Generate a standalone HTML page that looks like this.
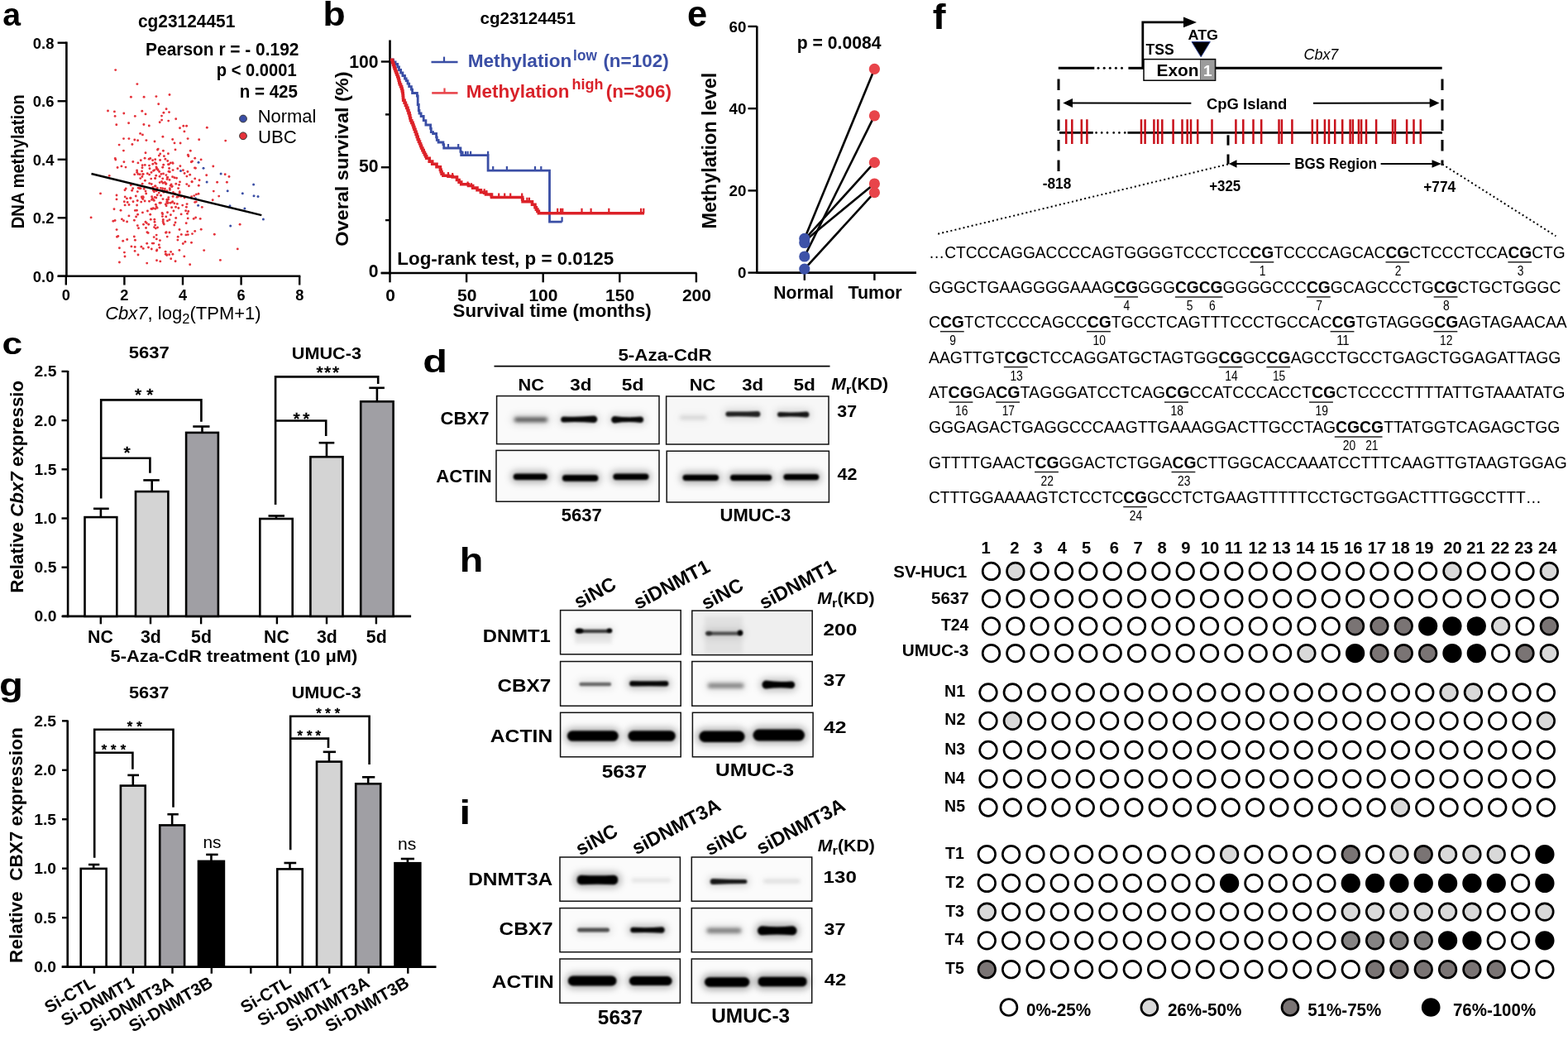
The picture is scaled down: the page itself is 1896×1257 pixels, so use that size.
<!DOCTYPE html>
<html><head><meta charset="utf-8"><title>Figure</title>
<style>
html,body{margin:0;padding:0;background:#fff;width:1896px;height:1257px;overflow:hidden}
svg{display:block}
text{font-family:"Liberation Sans", Arial, Helvetica, sans-serif}
</style></head><body>
<svg width="1896" height="1257" viewBox="0 0 1896 1257">
<rect width="1896" height="1257" fill="#fff"/>
<text x="3.25" y="30.60" font-size="38" font-weight="bold" textLength="21.80" lengthAdjust="spacingAndGlyphs">a</text>
<line x1="80.40" y1="50.50" x2="80.40" y2="335.00" stroke="#000" stroke-width="2.6"/>
<line x1="69.70" y1="333.80" x2="363.30" y2="333.80" stroke="#000" stroke-width="2.6"/>
<line x1="69.60" y1="333.80" x2="80.40" y2="333.80" stroke="#000" stroke-width="2.4"/>
<text x="65.40" y="340.60" font-size="18.4" font-weight="bold" text-anchor="end">0.0</text>
<line x1="69.60" y1="263.28" x2="80.40" y2="263.28" stroke="#000" stroke-width="2.4"/>
<text x="65.40" y="270.08" font-size="18.4" font-weight="bold" text-anchor="end">0.2</text>
<line x1="69.60" y1="192.76" x2="80.40" y2="192.76" stroke="#000" stroke-width="2.4"/>
<text x="65.40" y="199.56" font-size="18.4" font-weight="bold" text-anchor="end">0.4</text>
<line x1="69.60" y1="122.24" x2="80.40" y2="122.24" stroke="#000" stroke-width="2.4"/>
<text x="65.40" y="129.04" font-size="18.4" font-weight="bold" text-anchor="end">0.6</text>
<line x1="69.60" y1="51.72" x2="80.40" y2="51.72" stroke="#000" stroke-width="2.4"/>
<text x="65.40" y="58.52" font-size="18.4" font-weight="bold" text-anchor="end">0.8</text>
<line x1="79.80" y1="333.80" x2="79.80" y2="344.50" stroke="#000" stroke-width="2.4"/>
<text x="79.80" y="362.80" font-size="18.2" font-weight="bold" text-anchor="middle">0</text>
<line x1="150.40" y1="333.80" x2="150.40" y2="344.50" stroke="#000" stroke-width="2.4"/>
<text x="150.40" y="362.80" font-size="18.2" font-weight="bold" text-anchor="middle">2</text>
<line x1="221.00" y1="333.80" x2="221.00" y2="344.50" stroke="#000" stroke-width="2.4"/>
<text x="221.00" y="362.80" font-size="18.2" font-weight="bold" text-anchor="middle">4</text>
<line x1="291.60" y1="333.80" x2="291.60" y2="344.50" stroke="#000" stroke-width="2.4"/>
<text x="291.60" y="362.80" font-size="18.2" font-weight="bold" text-anchor="middle">6</text>
<line x1="362.20" y1="333.80" x2="362.20" y2="344.50" stroke="#000" stroke-width="2.4"/>
<text x="362.20" y="362.80" font-size="18.2" font-weight="bold" text-anchor="middle">8</text>
<g fill="#e5323a"><circle cx="139.7" cy="84.6" r="1.45"/><circle cx="165.9" cy="101.6" r="1.45"/><circle cx="158.4" cy="117.3" r="1.45"/><circle cx="174.1" cy="117.3" r="1.45"/><circle cx="188.9" cy="116.6" r="1.45"/><circle cx="205.0" cy="114.5" r="1.45"/><circle cx="191.7" cy="125.8" r="1.45"/><circle cx="130.5" cy="134.0" r="1.45"/><circle cx="138.4" cy="134.9" r="1.45"/><circle cx="149.8" cy="137.0" r="1.45"/><circle cx="139.1" cy="140.4" r="1.45"/><circle cx="163.3" cy="140.4" r="1.45"/><circle cx="197.9" cy="136.2" r="1.45"/><circle cx="140.8" cy="150.8" r="1.45"/><circle cx="155.6" cy="148.8" r="1.45"/><circle cx="173.9" cy="150.5" r="1.45"/><circle cx="180.3" cy="152.0" r="1.45"/><circle cx="193.2" cy="147.7" r="1.45"/><circle cx="217.5" cy="154.8" r="1.45"/><circle cx="221.8" cy="152.3" r="1.45"/><circle cx="225.6" cy="152.3" r="1.45"/><circle cx="250.3" cy="154.2" r="1.45"/><circle cx="240.7" cy="168.8" r="1.45"/><circle cx="272.7" cy="170.1" r="1.45"/><circle cx="230.3" cy="182.3" r="1.45"/><circle cx="257.8" cy="201.0" r="1.45"/><circle cx="110.1" cy="262.9" r="1.45"/><circle cx="121.5" cy="233.9" r="1.45"/><circle cx="136.9" cy="267.2" r="1.45"/><circle cx="290.1" cy="271.2" r="1.45"/><circle cx="287.3" cy="300.9" r="1.45"/><circle cx="266.4" cy="314.4" r="1.45"/><circle cx="246.7" cy="302.6" r="1.45"/><circle cx="259.3" cy="283.3" r="1.45"/><circle cx="229.7" cy="319.8" r="1.45"/><circle cx="144.4" cy="317.0" r="1.45"/><circle cx="177.7" cy="318.1" r="1.45"/><circle cx="189.5" cy="314.8" r="1.45"/><circle cx="193.8" cy="315.9" r="1.45"/><circle cx="206.7" cy="312.7" r="1.45"/><circle cx="222.8" cy="309.9" r="1.45"/><circle cx="144.4" cy="299.8" r="1.45"/><circle cx="167.0" cy="308.0" r="1.45"/><circle cx="200.3" cy="307.3" r="1.45"/><circle cx="204.6" cy="307.8" r="1.45"/><circle cx="208.9" cy="307.3" r="1.45"/><circle cx="148.7" cy="291.2" r="1.45"/><circle cx="153.7" cy="289.5" r="1.45"/><circle cx="243.2" cy="277.3" r="1.45"/><circle cx="132.2" cy="212.4" r="1.45"/><circle cx="274.4" cy="220.3" r="1.45"/><circle cx="277.0" cy="213.5" r="1.45"/><circle cx="272.2" cy="210.7" r="1.45"/><circle cx="262.6" cy="220.3" r="1.45"/><circle cx="258.3" cy="231.1" r="1.45"/><circle cx="264.7" cy="237.1" r="1.45"/><circle cx="257.2" cy="241.8" r="1.45"/><circle cx="237.4" cy="234.9" r="1.45"/><circle cx="240.0" cy="234.3" r="1.45"/><circle cx="235.7" cy="244.4" r="1.45"/><circle cx="244.3" cy="250.4" r="1.45"/><circle cx="242.2" cy="264.4" r="1.45"/><circle cx="234.2" cy="264.4" r="1.45"/><circle cx="232.5" cy="282.6" r="1.45"/><circle cx="235.7" cy="279.4" r="1.45"/><circle cx="249.7" cy="211.8" r="1.45"/><circle cx="241.1" cy="217.8" r="1.45"/><circle cx="236.4" cy="203.2" r="1.45"/><circle cx="235.7" cy="191.3" r="1.45"/><circle cx="182.7" cy="216.1" r="1.45"/><circle cx="183.5" cy="252.5" r="1.45"/><circle cx="165.6" cy="248.0" r="1.45"/><circle cx="217.5" cy="219.9" r="1.45"/><circle cx="215.6" cy="227.6" r="1.45"/><circle cx="199.3" cy="230.4" r="1.45"/><circle cx="146.9" cy="200.9" r="1.45"/><circle cx="202.1" cy="216.6" r="1.45"/><circle cx="166.6" cy="259.2" r="1.45"/><circle cx="197.0" cy="240.6" r="1.45"/><circle cx="202.5" cy="266.9" r="1.45"/><circle cx="197.1" cy="221.2" r="1.45"/><circle cx="172.4" cy="162.9" r="1.45"/><circle cx="203.4" cy="185.8" r="1.45"/><circle cx="173.5" cy="271.2" r="1.45"/><circle cx="180.5" cy="243.3" r="1.45"/><circle cx="205.3" cy="227.6" r="1.45"/><circle cx="177.9" cy="280.8" r="1.45"/><circle cx="176.0" cy="184.8" r="1.45"/><circle cx="168.7" cy="227.8" r="1.45"/><circle cx="200.1" cy="304.3" r="1.45"/><circle cx="190.5" cy="181.0" r="1.45"/><circle cx="138.0" cy="252.8" r="1.45"/><circle cx="186.5" cy="274.6" r="1.45"/><circle cx="201.9" cy="241.3" r="1.45"/><circle cx="152.0" cy="202.1" r="1.45"/><circle cx="206.2" cy="196.9" r="1.45"/><circle cx="225.8" cy="222.6" r="1.45"/><circle cx="192.3" cy="295.9" r="1.45"/><circle cx="204.9" cy="265.6" r="1.45"/><circle cx="177.7" cy="294.3" r="1.45"/><circle cx="164.6" cy="262.0" r="1.45"/><circle cx="152.2" cy="228.0" r="1.45"/><circle cx="225.9" cy="213.1" r="1.45"/><circle cx="198.3" cy="271.0" r="1.45"/><circle cx="160.8" cy="195.5" r="1.45"/><circle cx="217.2" cy="231.7" r="1.45"/><circle cx="195.5" cy="219.5" r="1.45"/><circle cx="229.7" cy="211.3" r="1.45"/><circle cx="202.4" cy="214.5" r="1.45"/><circle cx="149.4" cy="182.1" r="1.45"/><circle cx="213.5" cy="215.3" r="1.45"/><circle cx="139.1" cy="266.5" r="1.45"/><circle cx="184.6" cy="193.7" r="1.45"/><circle cx="155.9" cy="167.6" r="1.45"/><circle cx="203.3" cy="245.2" r="1.45"/><circle cx="197.5" cy="210.0" r="1.45"/><circle cx="192.3" cy="188.1" r="1.45"/><circle cx="172.4" cy="256.9" r="1.45"/><circle cx="215.7" cy="237.4" r="1.45"/><circle cx="166.9" cy="196.9" r="1.45"/><circle cx="226.5" cy="258.2" r="1.45"/><circle cx="154.2" cy="244.5" r="1.45"/><circle cx="185.4" cy="251.7" r="1.45"/><circle cx="224.9" cy="283.9" r="1.45"/><circle cx="221.3" cy="294.5" r="1.45"/><circle cx="169.2" cy="210.8" r="1.45"/><circle cx="217.9" cy="200.7" r="1.45"/><circle cx="198.0" cy="232.3" r="1.45"/><circle cx="193.1" cy="213.2" r="1.45"/><circle cx="184.8" cy="226.4" r="1.45"/><circle cx="203.8" cy="238.6" r="1.45"/><circle cx="208.6" cy="213.7" r="1.45"/><circle cx="240.3" cy="224.3" r="1.45"/><circle cx="178.4" cy="255.0" r="1.45"/><circle cx="188.9" cy="197.9" r="1.45"/><circle cx="180.7" cy="221.6" r="1.45"/><circle cx="160.7" cy="227.8" r="1.45"/><circle cx="199.4" cy="228.1" r="1.45"/><circle cx="178.3" cy="209.7" r="1.45"/><circle cx="196.4" cy="261.6" r="1.45"/><circle cx="175.1" cy="243.0" r="1.45"/><circle cx="183.5" cy="241.4" r="1.45"/><circle cx="214.9" cy="290.1" r="1.45"/><circle cx="187.5" cy="196.6" r="1.45"/><circle cx="211.0" cy="172.9" r="1.45"/><circle cx="146.0" cy="254.2" r="1.45"/><circle cx="180.6" cy="211.1" r="1.45"/><circle cx="216.9" cy="302.4" r="1.45"/><circle cx="206.6" cy="304.4" r="1.45"/><circle cx="193.7" cy="185.9" r="1.45"/><circle cx="185.4" cy="230.2" r="1.45"/><circle cx="209.5" cy="232.4" r="1.45"/><circle cx="187.0" cy="171.0" r="1.45"/><circle cx="215.9" cy="251.5" r="1.45"/><circle cx="212.5" cy="250.3" r="1.45"/><circle cx="192.6" cy="207.5" r="1.45"/><circle cx="194.9" cy="210.4" r="1.45"/><circle cx="150.4" cy="305.1" r="1.45"/><circle cx="204.9" cy="281.0" r="1.45"/><circle cx="163.1" cy="303.4" r="1.45"/><circle cx="221.4" cy="205.7" r="1.45"/><circle cx="226.7" cy="279.9" r="1.45"/><circle cx="189.3" cy="288.9" r="1.45"/><circle cx="208.7" cy="168.5" r="1.45"/><circle cx="166.6" cy="169.8" r="1.45"/><circle cx="214.3" cy="246.4" r="1.45"/><circle cx="186.8" cy="265.2" r="1.45"/><circle cx="199.4" cy="220.5" r="1.45"/><circle cx="227.3" cy="283.6" r="1.45"/><circle cx="218.1" cy="173.0" r="1.45"/><circle cx="226.1" cy="246.6" r="1.45"/><circle cx="170.3" cy="193.7" r="1.45"/><circle cx="192.2" cy="233.1" r="1.45"/><circle cx="225.4" cy="250.2" r="1.45"/><circle cx="142.1" cy="202.5" r="1.45"/><circle cx="197.3" cy="265.5" r="1.45"/><circle cx="189.0" cy="201.9" r="1.45"/><circle cx="191.2" cy="180.1" r="1.45"/><circle cx="187.7" cy="192.7" r="1.45"/><circle cx="227.1" cy="167.6" r="1.45"/><circle cx="172.2" cy="199.8" r="1.45"/><circle cx="141.5" cy="286.3" r="1.45"/><circle cx="139.3" cy="191.5" r="1.45"/><circle cx="157.9" cy="239.2" r="1.45"/><circle cx="184.3" cy="239.9" r="1.45"/><circle cx="174.2" cy="228.3" r="1.45"/><circle cx="234.8" cy="236.6" r="1.45"/><circle cx="202.7" cy="194.5" r="1.45"/><circle cx="184.2" cy="294.1" r="1.45"/><circle cx="175.1" cy="191.3" r="1.45"/><circle cx="147.4" cy="264.9" r="1.45"/><circle cx="214.8" cy="203.7" r="1.45"/><circle cx="189.4" cy="203.1" r="1.45"/><circle cx="193.4" cy="290.6" r="1.45"/><circle cx="149.5" cy="266.8" r="1.45"/><circle cx="212.7" cy="263.5" r="1.45"/><circle cx="166.3" cy="272.6" r="1.45"/><circle cx="150.3" cy="243.8" r="1.45"/><circle cx="159.2" cy="222.5" r="1.45"/><circle cx="207.6" cy="250.7" r="1.45"/><circle cx="196.6" cy="258.8" r="1.45"/><circle cx="209.1" cy="205.6" r="1.45"/><circle cx="206.2" cy="224.2" r="1.45"/><circle cx="223.1" cy="209.5" r="1.45"/><circle cx="212.0" cy="180.9" r="1.45"/><circle cx="181.7" cy="259.3" r="1.45"/><circle cx="201.1" cy="131.8" r="1.45"/><circle cx="165.7" cy="208.2" r="1.45"/><circle cx="237.2" cy="243.9" r="1.45"/><circle cx="203.5" cy="198.8" r="1.45"/><circle cx="166.2" cy="242.5" r="1.45"/><circle cx="196.7" cy="202.2" r="1.45"/><circle cx="188.4" cy="247.2" r="1.45"/><circle cx="163.4" cy="254.4" r="1.45"/><circle cx="211.9" cy="234.1" r="1.45"/><circle cx="167.5" cy="275.7" r="1.45"/><circle cx="205.0" cy="217.4" r="1.45"/><circle cx="232.0" cy="219.7" r="1.45"/><circle cx="187.5" cy="215.6" r="1.45"/><circle cx="139.8" cy="193.1" r="1.45"/><circle cx="197.5" cy="269.5" r="1.45"/><circle cx="222.9" cy="158.9" r="1.45"/><circle cx="153.6" cy="268.0" r="1.45"/><circle cx="196.6" cy="230.5" r="1.45"/><circle cx="179.1" cy="281.5" r="1.45"/><circle cx="243.1" cy="192.9" r="1.45"/><circle cx="158.9" cy="297.9" r="1.45"/><circle cx="232.5" cy="195.0" r="1.45"/><circle cx="235.5" cy="202.9" r="1.45"/><circle cx="167.1" cy="227.1" r="1.45"/><circle cx="187.7" cy="215.6" r="1.45"/><circle cx="170.7" cy="244.1" r="1.45"/><circle cx="200.9" cy="222.0" r="1.45"/><circle cx="205.4" cy="229.4" r="1.45"/><circle cx="181.0" cy="203.8" r="1.45"/><circle cx="190.5" cy="275.0" r="1.45"/><circle cx="173.3" cy="238.6" r="1.45"/><circle cx="186.4" cy="231.7" r="1.45"/><circle cx="189.2" cy="230.8" r="1.45"/><circle cx="185.8" cy="294.1" r="1.45"/><circle cx="199.9" cy="192.2" r="1.45"/><circle cx="200.3" cy="246.9" r="1.45"/><circle cx="200.6" cy="281.2" r="1.45"/><circle cx="141.0" cy="236.0" r="1.45"/><circle cx="165.6" cy="206.0" r="1.45"/><circle cx="162.8" cy="169.0" r="1.45"/><circle cx="179.5" cy="299.0" r="1.45"/><circle cx="169.8" cy="215.6" r="1.45"/><circle cx="201.9" cy="230.8" r="1.45"/><circle cx="226.9" cy="207.5" r="1.45"/><circle cx="188.7" cy="212.3" r="1.45"/><circle cx="231.3" cy="195.8" r="1.45"/><circle cx="215.2" cy="286.3" r="1.45"/><circle cx="185.5" cy="206.4" r="1.45"/><circle cx="181.7" cy="191.5" r="1.45"/><circle cx="204.4" cy="198.6" r="1.45"/><circle cx="220.7" cy="248.1" r="1.45"/><circle cx="180.5" cy="200.1" r="1.45"/><circle cx="214.1" cy="238.3" r="1.45"/><circle cx="159.6" cy="230.3" r="1.45"/><circle cx="198.4" cy="188.8" r="1.45"/><circle cx="209.1" cy="237.5" r="1.45"/><circle cx="210.9" cy="214.8" r="1.45"/><circle cx="194.5" cy="236.2" r="1.45"/><circle cx="183.0" cy="208.4" r="1.45"/><circle cx="162.4" cy="266.3" r="1.45"/><circle cx="189.4" cy="303.1" r="1.45"/><circle cx="171.9" cy="213.5" r="1.45"/><circle cx="203.6" cy="241.0" r="1.45"/><circle cx="183.3" cy="301.0" r="1.45"/><circle cx="235.7" cy="215.9" r="1.45"/><circle cx="217.0" cy="277.5" r="1.45"/><circle cx="209.1" cy="197.4" r="1.45"/><circle cx="141.0" cy="240.9" r="1.45"/><circle cx="142.8" cy="285.5" r="1.45"/><circle cx="173.2" cy="300.4" r="1.45"/><circle cx="190.0" cy="227.6" r="1.45"/><circle cx="205.3" cy="207.7" r="1.45"/><circle cx="227.4" cy="187.3" r="1.45"/><circle cx="155.9" cy="260.9" r="1.45"/><circle cx="162.3" cy="286.0" r="1.45"/><circle cx="187.2" cy="238.4" r="1.45"/><circle cx="201.7" cy="308.5" r="1.45"/><circle cx="157.8" cy="239.6" r="1.45"/><circle cx="184.2" cy="252.3" r="1.45"/><circle cx="187.6" cy="272.1" r="1.45"/><circle cx="207.1" cy="223.0" r="1.45"/><circle cx="187.0" cy="268.2" r="1.45"/><circle cx="164.3" cy="237.0" r="1.45"/><circle cx="151.0" cy="229.8" r="1.45"/><circle cx="193.0" cy="299.3" r="1.45"/><circle cx="182.9" cy="252.4" r="1.45"/><circle cx="200.9" cy="211.6" r="1.45"/><circle cx="188.3" cy="276.1" r="1.45"/><circle cx="185.6" cy="241.5" r="1.45"/><circle cx="207.9" cy="225.6" r="1.45"/><circle cx="170.9" cy="298.3" r="1.45"/><circle cx="179.7" cy="271.2" r="1.45"/><circle cx="161.0" cy="243.7" r="1.45"/><circle cx="176.7" cy="234.0" r="1.45"/><circle cx="202.5" cy="256.8" r="1.45"/><circle cx="217.2" cy="233.2" r="1.45"/><circle cx="170.1" cy="227.7" r="1.45"/><circle cx="204.5" cy="135.6" r="1.45"/><circle cx="197.4" cy="182.2" r="1.45"/><circle cx="208.7" cy="196.8" r="1.45"/><circle cx="202.2" cy="245.5" r="1.45"/><circle cx="202.2" cy="286.1" r="1.45"/><circle cx="219.3" cy="283.4" r="1.45"/><circle cx="195.6" cy="145.1" r="1.45"/><circle cx="183.6" cy="237.7" r="1.45"/><circle cx="218.8" cy="237.4" r="1.45"/><circle cx="168.7" cy="227.2" r="1.45"/><circle cx="204.0" cy="207.3" r="1.45"/><circle cx="169.6" cy="161.4" r="1.45"/><circle cx="231.6" cy="237.8" r="1.45"/><circle cx="196.1" cy="257.5" r="1.45"/><circle cx="225.2" cy="269.7" r="1.45"/><circle cx="206.4" cy="259.7" r="1.45"/><circle cx="171.6" cy="206.9" r="1.45"/><circle cx="223.1" cy="239.0" r="1.45"/><circle cx="172.0" cy="202.8" r="1.45"/><circle cx="188.0" cy="224.9" r="1.45"/><circle cx="227.9" cy="188.7" r="1.45"/><circle cx="176.0" cy="137.9" r="1.45"/><circle cx="189.3" cy="204.0" r="1.45"/><circle cx="172.8" cy="240.6" r="1.45"/><circle cx="223.9" cy="292.2" r="1.45"/><circle cx="151.0" cy="310.0" r="1.45"/><circle cx="219.1" cy="258.9" r="1.45"/><circle cx="187.7" cy="252.4" r="1.45"/><circle cx="186.2" cy="286.6" r="1.45"/><circle cx="189.8" cy="302.0" r="1.45"/><circle cx="187.4" cy="225.0" r="1.45"/><circle cx="201.1" cy="248.8" r="1.45"/><circle cx="166.3" cy="231.6" r="1.45"/><circle cx="176.9" cy="169.6" r="1.45"/><circle cx="208.7" cy="243.7" r="1.45"/><circle cx="177.3" cy="269.6" r="1.45"/><circle cx="165.4" cy="254.2" r="1.45"/><circle cx="196.7" cy="215.9" r="1.45"/><circle cx="203.7" cy="146.1" r="1.45"/><circle cx="171.3" cy="238.0" r="1.45"/><circle cx="176.0" cy="231.1" r="1.45"/><circle cx="193.2" cy="220.6" r="1.45"/><circle cx="183.2" cy="222.5" r="1.45"/><circle cx="190.6" cy="204.6" r="1.45"/><circle cx="141.1" cy="277.6" r="1.45"/><circle cx="189.2" cy="284.1" r="1.45"/><circle cx="162.7" cy="210.9" r="1.45"/><circle cx="172.7" cy="210.6" r="1.45"/><circle cx="208.2" cy="225.1" r="1.45"/><circle cx="202.1" cy="243.2" r="1.45"/><circle cx="153.4" cy="239.9" r="1.45"/><circle cx="200.8" cy="261.9" r="1.45"/><circle cx="186.7" cy="205.6" r="1.45"/><circle cx="166.9" cy="210.4" r="1.45"/><circle cx="236.6" cy="263.0" r="1.45"/><circle cx="193.0" cy="245.2" r="1.45"/><circle cx="228.4" cy="224.7" r="1.45"/><circle cx="212.0" cy="269.0" r="1.45"/><circle cx="188.8" cy="239.0" r="1.45"/><circle cx="144.1" cy="175.1" r="1.45"/><circle cx="212.1" cy="315.7" r="1.45"/><circle cx="208.1" cy="244.4" r="1.45"/><circle cx="200.6" cy="222.4" r="1.45"/><circle cx="151.1" cy="247.9" r="1.45"/><circle cx="227.2" cy="263.9" r="1.45"/><circle cx="163.2" cy="298.5" r="1.45"/><circle cx="158.2" cy="223.8" r="1.45"/><circle cx="232.2" cy="219.7" r="1.45"/><circle cx="195.5" cy="140.1" r="1.45"/><circle cx="176.0" cy="268.3" r="1.45"/><circle cx="202.7" cy="214.4" r="1.45"/><circle cx="163.4" cy="290.2" r="1.45"/><circle cx="196.6" cy="227.7" r="1.45"/><circle cx="156.0" cy="247.5" r="1.45"/><circle cx="175.4" cy="218.3" r="1.45"/><circle cx="186.3" cy="242.4" r="1.45"/><circle cx="180.2" cy="192.2" r="1.45"/><circle cx="224.6" cy="254.8" r="1.45"/><circle cx="210.7" cy="272.0" r="1.45"/><circle cx="191.1" cy="205.5" r="1.45"/><circle cx="227.7" cy="255.5" r="1.45"/><circle cx="187.3" cy="229.9" r="1.45"/><circle cx="151.2" cy="237.9" r="1.45"/><circle cx="172.1" cy="222.2" r="1.45"/><circle cx="190.2" cy="227.1" r="1.45"/><circle cx="175.3" cy="199.4" r="1.45"/><circle cx="182.3" cy="265.3" r="1.45"/><circle cx="201.4" cy="307.7" r="1.45"/><circle cx="172.0" cy="239.5" r="1.45"/><circle cx="210.8" cy="245.8" r="1.45"/><circle cx="197.1" cy="267.5" r="1.45"/><circle cx="196.9" cy="165.3" r="1.45"/><circle cx="171.8" cy="134.3" r="1.45"/><circle cx="172.9" cy="237.8" r="1.45"/><circle cx="193.6" cy="193.5" r="1.45"/><circle cx="204.6" cy="203.5" r="1.45"/><circle cx="194.4" cy="227.4" r="1.45"/><circle cx="212.8" cy="222.3" r="1.45"/><circle cx="231.5" cy="293.2" r="1.45"/><circle cx="209.9" cy="255.0" r="1.45"/><circle cx="212.7" cy="143.7" r="1.45"/><circle cx="189.1" cy="249.8" r="1.45"/><circle cx="176.5" cy="275.5" r="1.45"/><circle cx="173.2" cy="210.4" r="1.45"/><circle cx="190.2" cy="235.7" r="1.45"/><circle cx="184.8" cy="198.3" r="1.45"/><circle cx="201.8" cy="244.8" r="1.45"/><circle cx="206.1" cy="245.3" r="1.45"/><circle cx="159.9" cy="174.5" r="1.45"/><circle cx="201.1" cy="280.8" r="1.45"/><circle cx="216.6" cy="223.4" r="1.45"/><circle cx="149.5" cy="167.6" r="1.45"/><circle cx="197.7" cy="199.3" r="1.45"/><circle cx="194.3" cy="245.2" r="1.45"/><circle cx="149.9" cy="195.8" r="1.45"/><circle cx="190.0" cy="251.2" r="1.45"/></g>
<g fill="#3a4ea5"><circle cx="240.0" cy="196.3" r="1.5"/><circle cx="246.0" cy="203.2" r="1.5"/><circle cx="218.5" cy="206.6" r="1.5"/><circle cx="250.1" cy="219.9" r="1.5"/><circle cx="267.1" cy="210.0" r="1.5"/><circle cx="275.2" cy="230.7" r="1.5"/><circle cx="293.3" cy="233.7" r="1.5"/><circle cx="306.6" cy="222.9" r="1.5"/><circle cx="307.0" cy="236.7" r="1.5"/><circle cx="312.0" cy="237.5" r="1.5"/><circle cx="278.0" cy="248.7" r="1.5"/><circle cx="239.6" cy="248.3" r="1.5"/><circle cx="295.9" cy="252.1" r="1.5"/><circle cx="318.4" cy="265.0" r="1.5"/><circle cx="278.7" cy="273.0" r="1.5"/><circle cx="236.4" cy="239.7" r="1.5"/></g>
<line x1="110.50" y1="210.00" x2="316.30" y2="260.10" stroke="#000" stroke-width="2.5"/>
<text x="166.98" y="33.40" font-size="22.6" font-weight="bold" textLength="117.40" lengthAdjust="spacingAndGlyphs">cg23124451</text>
<text x="176.10" y="67.00" font-size="21.2" font-weight="bold" textLength="185.34" lengthAdjust="spacingAndGlyphs">Pearson r = - 0.192</text>
<text x="261.87" y="92.30" font-size="21.2" font-weight="bold" textLength="96.79" lengthAdjust="spacingAndGlyphs">p &lt; 0.0001</text>
<text x="289.64" y="117.60" font-size="21.2" font-weight="bold" textLength="70.33" lengthAdjust="spacingAndGlyphs">n = 425</text>
<circle cx="294.00" cy="143.50" r="4.40" fill="#3a4ea5" stroke="#333" stroke-width="1"/>
<circle cx="294.00" cy="164.30" r="4.40" fill="#e5323a" stroke="#333" stroke-width="1"/>
<text x="311.70" y="147.70" font-size="21.2" textLength="70.77" lengthAdjust="spacingAndGlyphs">Normal</text>
<text x="311.99" y="172.70" font-size="21.2" textLength="46.86" lengthAdjust="spacingAndGlyphs">UBC</text>
<g transform="translate(29.30,274.90) rotate(-90)">
<text x="-1.35" y="0.00" font-size="21.7" font-weight="bold" textLength="162.09" lengthAdjust="spacingAndGlyphs">DNA methylation</text>
</g>
<text x="127.20" y="386.10" font-size="22" textLength="188.50" lengthAdjust="spacingAndGlyphs"><tspan font-style="italic">Cbx7</tspan>, log<tspan font-size="16.5" dy="4.5">2</tspan><tspan dy="-4.5">(TPM+1)</tspan></text>
<text x="390.57" y="31.40" font-size="40.6" font-weight="bold" textLength="27.15" lengthAdjust="spacingAndGlyphs">b</text>
<text x="580.50" y="29.20" font-size="21" font-weight="bold" textLength="115.50" lengthAdjust="spacingAndGlyphs">cg23124451</text>
<line x1="471.50" y1="48.40" x2="471.50" y2="331.20" stroke="#000" stroke-width="2.6"/>
<line x1="460.60" y1="330.00" x2="842.60" y2="330.00" stroke="#000" stroke-width="2.6"/>
<line x1="460.80" y1="330.00" x2="471.50" y2="330.00" stroke="#000" stroke-width="2.4"/>
<text x="445.78" y="335.40" font-size="21.2" font-weight="bold" textLength="11.79" lengthAdjust="spacingAndGlyphs">0</text>
<line x1="460.80" y1="202.25" x2="471.50" y2="202.25" stroke="#000" stroke-width="2.4"/>
<text x="433.99" y="208.40" font-size="21.2" font-weight="bold" textLength="23.58" lengthAdjust="spacingAndGlyphs">50</text>
<line x1="460.80" y1="74.50" x2="471.50" y2="74.50" stroke="#000" stroke-width="2.4"/>
<text x="422.20" y="81.80" font-size="21.2" font-weight="bold" textLength="35.37" lengthAdjust="spacingAndGlyphs">100</text>
<line x1="466.00" y1="266.12" x2="471.50" y2="266.12" stroke="#000" stroke-width="2.4"/>
<line x1="466.00" y1="138.38" x2="471.50" y2="138.38" stroke="#000" stroke-width="2.4"/>
<line x1="471.50" y1="330.00" x2="471.50" y2="341.30" stroke="#000" stroke-width="2.4"/>
<text x="466.18" y="364.00" font-size="21.0" font-weight="bold" textLength="11.68" lengthAdjust="spacingAndGlyphs">0</text>
<line x1="564.10" y1="330.00" x2="564.10" y2="341.30" stroke="#000" stroke-width="2.4"/>
<text x="553.03" y="364.00" font-size="21.0" font-weight="bold" textLength="23.36" lengthAdjust="spacingAndGlyphs">50</text>
<line x1="656.70" y1="330.00" x2="656.70" y2="341.30" stroke="#000" stroke-width="2.4"/>
<text x="639.45" y="364.00" font-size="21.0" font-weight="bold" textLength="35.04" lengthAdjust="spacingAndGlyphs">100</text>
<line x1="749.30" y1="330.00" x2="749.30" y2="341.30" stroke="#000" stroke-width="2.4"/>
<text x="732.05" y="364.00" font-size="21.0" font-weight="bold" textLength="35.04" lengthAdjust="spacingAndGlyphs">150</text>
<line x1="841.90" y1="330.00" x2="841.90" y2="341.30" stroke="#000" stroke-width="2.4"/>
<text x="824.95" y="364.00" font-size="21.0" font-weight="bold" textLength="35.04" lengthAdjust="spacingAndGlyphs">200</text>
<path d="M472.0,72.2 475.5,72.2 475.5,74.9 478.1,74.9 478.1,77.5 480.7,77.5 480.7,81.0 482.5,81.0 482.5,84.5 484.6,84.5 484.6,88.0 486.9,88.0 486.9,91.5 489.5,91.5 489.5,95.0 491.2,95.0 491.2,97.6 493.0,97.6 493.0,101.1 494.7,101.1 494.7,104.6 497.4,104.6 497.4,108.1 498.6,108.1 498.6,112.5 504.4,112.5 504.4,116.0 505.2,116.0 505.2,126.5 506.3,126.5 506.3,133.5 507.0,133.5 507.0,137.0 509.1,137.0 509.1,140.5 512.2,140.5 512.2,145.7 514.9,145.7 514.9,151.0 520.6,151.0 520.6,155.4 521.3,155.4 521.3,159.7 523.6,159.7 523.6,161.5 527.6,161.5 527.6,165.9 528.3,165.9 528.3,169.4 530.1,169.4 530.1,172.0 535.9,172.0 535.9,174.6 536.7,174.6 536.7,179.0 556.9,179.0 556.9,183.4 557.7,183.4 557.7,187.7 590.1,187.7 590.1,206.1 664.5,206.1 664.5,268.2 679.6,268.2" stroke="#3a4ea5" stroke-width="2.8" fill="none" stroke-linejoin="miter"/>
<path d="M542.0,179.0 v-5 M554.2,179.0 v-5 M559.5,187.7 v-5 M563.0,187.7 v-5 M565.6,187.7 v-5 M569.1,187.7 v-5 M590.1,187.7 v-5 M596.2,206.1 v-5 M612.9,206.1 v-5 M647.0,206.1 v-5 M654.3,206.1 v-5 M679.6,268.2 v-6 M666.5,268.2 v-0" stroke="#3a4ea5" stroke-width="2.2" fill="none"/>
<path d="M472.0,72.2 474.6,72.2 474.6,75.7 475.5,75.7 475.5,78.4 476.4,78.4 476.4,81.0 477.2,81.0 477.2,83.3 478.1,83.3 478.1,85.7 479.0,85.7 479.0,88.0 479.9,88.0 479.9,90.3 480.7,90.3 480.7,92.7 481.6,92.7 481.6,95.0 482.2,95.0 482.2,97.3 482.8,97.3 482.8,99.7 483.4,99.7 483.4,102.0 484.5,102.0 484.5,104.6 485.6,104.6 485.6,107.2 486.3,107.2 486.3,109.9 486.9,109.9 486.9,112.5 487.2,112.5 487.2,115.4 487.5,115.4 487.5,118.3 487.7,118.3 487.7,121.2 489.1,121.2 489.1,124.3 490.4,124.3 490.4,127.4 491.7,127.4 491.7,130.4 493.0,130.4 493.0,133.5 494.0,133.5 494.0,136.6 495.1,136.6 495.1,139.6 495.8,139.6 495.8,142.7 496.5,142.7 496.5,145.7 497.8,145.7 497.8,148.4 499.1,148.4 499.1,151.0 500.0,151.0 500.0,153.6 500.9,153.6 500.9,156.2 502.0,156.2 502.0,159.3 503.1,159.3 503.1,162.4 504.2,162.4 504.2,165.4 505.2,165.4 505.2,168.5 506.4,168.5 506.4,171.1 507.5,171.1 507.5,173.7 508.6,173.7 508.6,176.4 509.6,176.4 509.6,179.0 510.9,179.0 510.9,181.6 512.2,181.6 512.2,184.2 513.4,184.2 513.4,186.6 514.6,186.6 514.6,188.9 515.7,188.9 515.7,191.2 519.2,191.2 519.2,195.1 522.7,195.1 522.7,198.2 528.0,198.2 528.0,201.7 532.4,201.7 532.4,205.2 533.2,205.2 533.2,207.7 534.1,207.7 534.1,210.1 535.9,210.1 535.9,212.2 542.0,212.2 542.0,213.1 547.2,213.1 547.2,214.0 552.5,214.0 552.5,217.5 555.1,217.5 555.1,220.1 557.7,220.1 557.7,222.7 566.5,222.7 566.5,224.5 571.7,224.5 571.7,227.1 577.0,227.1 577.0,229.7 581.4,229.7 581.4,232.4 585.7,232.4 585.7,233.2 587.5,233.2 587.5,235.0 594.5,235.0 594.5,238.5 631.2,238.5 631.2,238.5 631.7,238.5 631.7,241.1 632.1,241.1 632.1,243.7 641.7,243.7 641.7,243.7 643.5,243.7 643.5,247.2 647.0,247.2 647.0,250.7 648.4,250.7 648.4,253.1 649.9,253.1 649.9,255.4 651.4,255.4 651.4,257.7 665.0,257.7 665.0,257.7 779.0,257.7" stroke="#dc2128" stroke-width="3.6" fill="none" stroke-linejoin="miter"/>
<path d="M542.0,213.1 v-5 M547.2,214.0 v-5 M552.5,217.5 v-5 M565.6,224.5 v-5 M570.0,226.2 v-5 M585.7,233.2 v-5 M588.4,235.0 v-5 M593.6,238.5 v-5 M603.2,238.5 v-5 M610.2,238.5 v-5 M617.2,238.5 v-5 M631.2,238.5 v-5 M637.4,243.7 v-5 M640.0,243.7 v-5 M674.2,257.7 v-6 M678.0,257.7 v-6 M680.3,257.7 v-6 M703.5,257.7 v-6 M714.6,257.7 v-6 M736.3,257.7 v-6 M775.1,257.7 v-6 M778.3,257.7 v-6 " stroke="#dc2128" stroke-width="2.2" fill="none"/>
<line x1="521.50" y1="75.00" x2="553.50" y2="75.00" stroke="#3a4ea5" stroke-width="2.6"/>
<line x1="537.00" y1="75.00" x2="537.00" y2="68.60" stroke="#3a4ea5" stroke-width="2.2"/>
<line x1="522.20" y1="112.40" x2="553.50" y2="112.40" stroke="#e8454b" stroke-width="2.6"/>
<line x1="537.50" y1="112.40" x2="537.50" y2="106.50" stroke="#e8454b" stroke-width="2.2"/>
<text x="565.70" y="81.20" font-size="22.5" font-weight="bold" fill="#3a4ea5" textLength="125.70" lengthAdjust="spacingAndGlyphs">Methylation</text>
<text x="693.10" y="72.80" font-size="17.5" font-weight="bold" fill="#3a4ea5" textLength="28.70" lengthAdjust="spacingAndGlyphs">low</text>
<text x="729.40" y="81.20" font-size="22.5" font-weight="bold" fill="#3a4ea5" textLength="79.30" lengthAdjust="spacingAndGlyphs">(n=102)</text>
<text x="563.70" y="118.40" font-size="22.5" font-weight="bold" fill="#d9222a" textLength="124.90" lengthAdjust="spacingAndGlyphs">Methylation</text>
<text x="691.40" y="108.20" font-size="18" font-weight="bold" fill="#d9222a" textLength="38.00" lengthAdjust="spacingAndGlyphs">high</text>
<text x="732.80" y="118.40" font-size="22.5" font-weight="bold" fill="#d9222a" textLength="79.30" lengthAdjust="spacingAndGlyphs">(n=306)</text>
<text x="480.30" y="319.60" font-size="22" font-weight="bold" textLength="261.82" lengthAdjust="spacingAndGlyphs">Log-rank test, p = 0.0125</text>
<text x="547.56" y="383.40" font-size="21.3" font-weight="bold" textLength="240.15" lengthAdjust="spacingAndGlyphs">Survival time (months)</text>
<g transform="translate(420.50,296.70) rotate(-90)">
<text x="-0.96" y="0.00" font-size="22.5" font-weight="bold" textLength="211.13" lengthAdjust="spacingAndGlyphs">Overal survival (%)</text>
</g>
<text x="831.10" y="31.60" font-size="44" font-weight="bold" textLength="24.19" lengthAdjust="spacingAndGlyphs">e</text>
<line x1="915.30" y1="31.60" x2="915.30" y2="330.80" stroke="#000" stroke-width="2.6"/>
<line x1="915.30" y1="329.60" x2="1108.00" y2="329.60" stroke="#000" stroke-width="2.6"/>
<line x1="904.50" y1="329.60" x2="915.30" y2="329.60" stroke="#000" stroke-width="2.4"/>
<text x="902.50" y="336.40" font-size="18.8" font-weight="bold" text-anchor="end">0</text>
<line x1="904.50" y1="230.38" x2="915.30" y2="230.38" stroke="#000" stroke-width="2.4"/>
<text x="902.50" y="237.18" font-size="18.8" font-weight="bold" text-anchor="end">20</text>
<line x1="904.50" y1="131.16" x2="915.30" y2="131.16" stroke="#000" stroke-width="2.4"/>
<text x="902.50" y="137.96" font-size="18.8" font-weight="bold" text-anchor="end">40</text>
<line x1="904.50" y1="31.94" x2="915.30" y2="31.94" stroke="#000" stroke-width="2.4"/>
<text x="902.50" y="38.74" font-size="18.8" font-weight="bold" text-anchor="end">60</text>
<line x1="972.80" y1="329.60" x2="972.80" y2="338.80" stroke="#000" stroke-width="2.4"/>
<line x1="1057.40" y1="329.60" x2="1057.40" y2="338.80" stroke="#000" stroke-width="2.4"/>
<text x="935.18" y="361.10" font-size="21.2" font-weight="bold" textLength="72.91" lengthAdjust="spacingAndGlyphs">Normal</text>
<text x="1025.46" y="361.10" font-size="21.2" font-weight="bold" textLength="65.15" lengthAdjust="spacingAndGlyphs">Tumor</text>
<text x="963.81" y="58.90" font-size="21.2" font-weight="bold" textLength="101.71" lengthAdjust="spacingAndGlyphs">p = 0.0084</text>
<g transform="translate(865.50,274.90) rotate(-90)">
<text x="-1.57" y="0.00" font-size="23" font-weight="bold" textLength="188.62" lengthAdjust="spacingAndGlyphs">Methylation level</text>
</g>
<line x1="972.80" y1="288.40" x2="1057.40" y2="83.40" stroke="#000" stroke-width="2.6"/>
<line x1="972.80" y1="310.00" x2="1057.40" y2="139.80" stroke="#000" stroke-width="2.6"/>
<line x1="972.80" y1="289.50" x2="1057.40" y2="196.40" stroke="#000" stroke-width="2.6"/>
<line x1="972.80" y1="291.50" x2="1057.40" y2="222.00" stroke="#000" stroke-width="2.6"/>
<line x1="972.80" y1="325.10" x2="1057.40" y2="232.70" stroke="#000" stroke-width="2.6"/>
<circle cx="972.80" cy="288.40" r="6.60" fill="#3d52a8" stroke="none" stroke-width="0"/>
<circle cx="972.80" cy="293.50" r="6.60" fill="#3d52a8" stroke="none" stroke-width="0"/>
<circle cx="972.80" cy="310.00" r="6.60" fill="#3d52a8" stroke="none" stroke-width="0"/>
<circle cx="972.80" cy="325.10" r="6.60" fill="#3d52a8" stroke="none" stroke-width="0"/>
<circle cx="1057.40" cy="83.40" r="6.60" fill="#e8444a" stroke="none" stroke-width="0"/>
<circle cx="1057.40" cy="139.80" r="6.60" fill="#e8444a" stroke="none" stroke-width="0"/>
<circle cx="1057.40" cy="196.40" r="6.60" fill="#e8444a" stroke="none" stroke-width="0"/>
<circle cx="1057.40" cy="222.00" r="6.60" fill="#e8444a" stroke="none" stroke-width="0"/>
<circle cx="1057.40" cy="232.70" r="6.60" fill="#e8444a" stroke="none" stroke-width="0"/>
<text x="1127.89" y="35.40" font-size="42" font-weight="bold" textLength="15.82" lengthAdjust="spacingAndGlyphs">f</text>
<line x1="1279.80" y1="82.30" x2="1323.30" y2="82.30" stroke="#000" stroke-width="3.0"/>
<circle cx="1328.00" cy="82.30" r="1.50" fill="#000" stroke="none" stroke-width="0"/>
<circle cx="1335.20" cy="82.30" r="1.50" fill="#000" stroke="none" stroke-width="0"/>
<circle cx="1342.30" cy="82.30" r="1.50" fill="#000" stroke="none" stroke-width="0"/>
<circle cx="1349.40" cy="82.30" r="1.50" fill="#000" stroke="none" stroke-width="0"/>
<circle cx="1356.50" cy="82.30" r="1.50" fill="#000" stroke="none" stroke-width="0"/>
<line x1="1364.40" y1="82.30" x2="1383.00" y2="82.30" stroke="#000" stroke-width="3.0"/>
<line x1="1469.60" y1="82.30" x2="1743.70" y2="82.30" stroke="#000" stroke-width="3.0"/>
<path d="M1381.8,82 V26.9 H1434" stroke="#000" stroke-width="2.8" fill="none"/>
<polygon points="1431,20.4 1447,26.9 1431,33.2" fill="#000"/>
<rect x="1383.00" y="71.60" width="86.60" height="25.60" fill="#fff" stroke="#000" stroke-width="1.5"/>
<rect x="1451.50" y="72.40" width="17.40" height="24.00" fill="#9c9c9c" stroke="#555" stroke-width="0.8"/>
<text x="1460.20" y="92.00" font-size="19" font-weight="bold" text-anchor="middle" fill="#fff">1</text>
<text x="1398.60" y="91.50" font-size="20.7" font-weight="bold" textLength="50.99" lengthAdjust="spacingAndGlyphs">Exon</text>
<text x="1385.60" y="65.70" font-size="17.5" font-weight="bold" textLength="34.08" lengthAdjust="spacingAndGlyphs">TSS</text>
<text x="1436.57" y="48.00" font-size="16.6" font-weight="bold" textLength="36.50" lengthAdjust="spacingAndGlyphs">ATG</text>
<polygon points="1441,50.6 1463.3,50.6 1452.2,68.8" fill="#000" stroke="#2a3f8f" stroke-width="1"/>
<text x="1576.51" y="71.90" font-size="19" font-style="italic" textLength="41.84" lengthAdjust="spacingAndGlyphs">Cbx7</text>
<line x1="1280.00" y1="95.50" x2="1280.00" y2="207.00" stroke="#000" stroke-width="3.0" stroke-dasharray="13.5 11"/>
<line x1="1744.00" y1="95.50" x2="1744.00" y2="200.00" stroke="#000" stroke-width="3.0" stroke-dasharray="13.5 11"/>
<line x1="1295.00" y1="124.50" x2="1440.40" y2="124.80" stroke="#000" stroke-width="2.0"/>
<polygon points="1285.3,124.5 1297,119 1297,130" fill="#000"/>
<line x1="1587.90" y1="124.80" x2="1730.00" y2="124.50" stroke="#000" stroke-width="2.0"/>
<polygon points="1740.5,124.5 1728.7,119 1728.7,130" fill="#000"/>
<text x="1458.94" y="131.60" font-size="18.6" font-weight="bold" textLength="97.47" lengthAdjust="spacingAndGlyphs">CpG Island</text>
<line x1="1281.00" y1="160.40" x2="1321.80" y2="160.40" stroke="#000" stroke-width="2.6"/>
<circle cx="1325.60" cy="160.40" r="1.30" fill="#000" stroke="none" stroke-width="0"/>
<circle cx="1332.20" cy="160.40" r="1.30" fill="#000" stroke="none" stroke-width="0"/>
<circle cx="1339.00" cy="160.40" r="1.30" fill="#000" stroke="none" stroke-width="0"/>
<circle cx="1346.70" cy="160.40" r="1.30" fill="#000" stroke="none" stroke-width="0"/>
<circle cx="1353.40" cy="160.40" r="1.30" fill="#000" stroke="none" stroke-width="0"/>
<circle cx="1360.20" cy="160.40" r="1.30" fill="#000" stroke="none" stroke-width="0"/>
<line x1="1363.50" y1="160.40" x2="1744.00" y2="160.40" stroke="#000" stroke-width="2.6"/>
<path d="M1289.2,144.2V173.9M1296.3,144.2V173.9M1307.8,144.2V173.9M1314.4,144.2V173.9M1380.0,144.2V173.9M1384.6,144.2V173.9M1395.4,144.2V173.9M1400.1,144.2V173.9M1405.3,144.2V173.9M1418.6,144.2V173.9M1429.5,144.2V173.9M1435.7,144.2V173.9M1440.0,144.2V173.9M1448.2,144.2V173.9M1465.5,144.2V173.9M1494.4,144.2V173.9M1503.3,144.2V173.9M1515.5,144.2V173.9M1525.2,144.2V173.9M1546.5,144.2V173.9M1549.9,144.2V173.9M1562.4,144.2V173.9M1586.8,144.2V173.9M1592.8,144.2V173.9M1601.9,144.2V173.9M1607.0,144.2V173.9M1614.2,144.2V173.9M1623.2,144.2V173.9M1632.6,144.2V173.9M1635.8,144.2V173.9M1642.9,144.2V173.9M1646.1,144.2V173.9M1652.0,144.2V173.9M1664.1,144.2V173.9M1684.0,144.2V173.9M1687.0,144.2V173.9M1701.1,144.2V173.9M1709.5,144.2V173.9M1717.8,144.2V173.9" stroke="#c8101a" stroke-width="2.5" fill="none"/>
<line x1="1485.00" y1="163.30" x2="1485.00" y2="175.60" stroke="#000" stroke-width="3.0"/>
<line x1="1485.00" y1="186.50" x2="1485.00" y2="198.40" stroke="#000" stroke-width="3.0"/>
<line x1="1494.00" y1="198.00" x2="1559.80" y2="198.00" stroke="#000" stroke-width="2.0"/>
<polygon points="1486,198 1495.5,193.2 1495.5,202.8" fill="#000"/>
<line x1="1669.60" y1="198.00" x2="1733.00" y2="198.00" stroke="#000" stroke-width="2.0"/>
<polygon points="1742.8,198 1731.5,193.2 1731.5,202.8" fill="#000"/>
<text x="1565.16" y="203.60" font-size="18.6" font-weight="bold" textLength="99.81" lengthAdjust="spacingAndGlyphs">BGS Region</text>
<text x="1260.73" y="228.30" font-size="18" font-weight="bold" textLength="34.50" lengthAdjust="spacingAndGlyphs">-818</text>
<text x="1462.29" y="231.30" font-size="18.2" font-weight="bold" textLength="37.87" lengthAdjust="spacingAndGlyphs">+325</text>
<text x="1721.27" y="231.60" font-size="18.4" font-weight="bold" textLength="38.92" lengthAdjust="spacingAndGlyphs">+774</text>
<line x1="1485.00" y1="198.50" x2="1132.30" y2="283.20" stroke="#000" stroke-width="2.0" stroke-dasharray="2 3.2" stroke-linecap="butt"/>
<line x1="1744.00" y1="198.50" x2="1881.40" y2="285.30" stroke="#000" stroke-width="2.0" stroke-dasharray="2 3.2" stroke-linecap="butt"/>
<text x="1123.00" y="311.90" font-size="19.5" textLength="769.60" lengthAdjust="spacingAndGlyphs">…CTCCCAGGACCCCAGTGGGGTCCCTCC<tspan font-weight="bold">CG</tspan>TCCCCAGCAC<tspan font-weight="bold">CG</tspan>CTCCCTCCA<tspan font-weight="bold">CG</tspan>CTG</text>
<line x1="1511.53" y1="316.80" x2="1540.27" y2="316.80" stroke="#222" stroke-width="1.5"/>
<text x="1526.70" y="333.00" font-size="17.3" text-anchor="middle" textLength="7.70" lengthAdjust="spacingAndGlyphs">1</text>
<line x1="1675.46" y1="316.80" x2="1704.20" y2="316.80" stroke="#222" stroke-width="1.5"/>
<text x="1690.63" y="333.00" font-size="17.3" text-anchor="middle" textLength="7.70" lengthAdjust="spacingAndGlyphs">2</text>
<line x1="1823.41" y1="316.80" x2="1852.15" y2="316.80" stroke="#222" stroke-width="1.5"/>
<text x="1838.58" y="333.00" font-size="17.3" text-anchor="middle" textLength="7.70" lengthAdjust="spacingAndGlyphs">3</text>
<text x="1123.00" y="354.00" font-size="19.5" textLength="764.40" lengthAdjust="spacingAndGlyphs">GGGCTGAAGGGGAAAG<tspan font-weight="bold">CG</tspan>GGG<tspan font-weight="bold">CGCG</tspan>GGGGCCC<tspan font-weight="bold">CG</tspan>GCAGCCCTG<tspan font-weight="bold">CG</tspan>CTGCTGGGC</text>
<line x1="1347.22" y1="358.90" x2="1376.05" y2="358.90" stroke="#222" stroke-width="1.5"/>
<text x="1362.43" y="375.10" font-size="17.3" text-anchor="middle" textLength="7.70" lengthAdjust="spacingAndGlyphs">4</text>
<line x1="1420.89" y1="358.90" x2="1478.53" y2="358.90" stroke="#222" stroke-width="1.5"/>
<text x="1438.60" y="375.10" font-size="17.3" text-anchor="middle" textLength="7.70" lengthAdjust="spacingAndGlyphs">5</text>
<text x="1465.92" y="375.10" font-size="17.3" text-anchor="middle" textLength="7.70" lengthAdjust="spacingAndGlyphs">6</text>
<line x1="1579.95" y1="358.90" x2="1608.78" y2="358.90" stroke="#222" stroke-width="1.5"/>
<text x="1595.16" y="375.10" font-size="17.3" text-anchor="middle" textLength="7.70" lengthAdjust="spacingAndGlyphs">7</text>
<line x1="1733.68" y1="358.90" x2="1762.51" y2="358.90" stroke="#222" stroke-width="1.5"/>
<text x="1748.89" y="375.10" font-size="17.3" text-anchor="middle" textLength="7.70" lengthAdjust="spacingAndGlyphs">8</text>
<text x="1123.00" y="395.80" font-size="19.5" textLength="771.70" lengthAdjust="spacingAndGlyphs">C<tspan font-weight="bold">CG</tspan>TCTCCCCAGCC<tspan font-weight="bold">CG</tspan>TGCCTCAGTTTCCCTGCCAC<tspan font-weight="bold">CG</tspan>TGTAGGG<tspan font-weight="bold">CG</tspan>AGTAGAACAA</text>
<line x1="1136.87" y1="400.70" x2="1165.69" y2="400.70" stroke="#222" stroke-width="1.5"/>
<text x="1152.08" y="416.90" font-size="17.3" text-anchor="middle" textLength="7.70" lengthAdjust="spacingAndGlyphs">9</text>
<line x1="1314.05" y1="400.70" x2="1342.87" y2="400.70" stroke="#222" stroke-width="1.5"/>
<text x="1329.26" y="416.90" font-size="17.3" text-anchor="middle" textLength="15.39" lengthAdjust="spacingAndGlyphs">10</text>
<line x1="1608.61" y1="400.70" x2="1637.43" y2="400.70" stroke="#222" stroke-width="1.5"/>
<text x="1623.82" y="416.90" font-size="17.3" text-anchor="middle" textLength="15.39" lengthAdjust="spacingAndGlyphs">11</text>
<line x1="1733.49" y1="400.70" x2="1762.31" y2="400.70" stroke="#222" stroke-width="1.5"/>
<text x="1748.70" y="416.90" font-size="17.3" text-anchor="middle" textLength="15.39" lengthAdjust="spacingAndGlyphs">12</text>
<text x="1123.00" y="438.70" font-size="19.5" textLength="764.40" lengthAdjust="spacingAndGlyphs">AAGTTGT<tspan font-weight="bold">CG</tspan>CTCCAGGATGCTAGTGG<tspan font-weight="bold">CG</tspan>GC<tspan font-weight="bold">CG</tspan>AGCCTGCCTGAGCTGGAGATTAGG</text>
<line x1="1213.87" y1="443.60" x2="1242.74" y2="443.60" stroke="#222" stroke-width="1.5"/>
<text x="1229.10" y="459.80" font-size="17.3" text-anchor="middle" textLength="15.39" lengthAdjust="spacingAndGlyphs">13</text>
<line x1="1473.66" y1="443.60" x2="1502.52" y2="443.60" stroke="#222" stroke-width="1.5"/>
<text x="1488.89" y="459.80" font-size="17.3" text-anchor="middle" textLength="15.39" lengthAdjust="spacingAndGlyphs">14</text>
<line x1="1531.39" y1="443.60" x2="1560.25" y2="443.60" stroke="#222" stroke-width="1.5"/>
<text x="1546.62" y="459.80" font-size="17.3" text-anchor="middle" textLength="15.39" lengthAdjust="spacingAndGlyphs">15</text>
<text x="1123.00" y="481.20" font-size="19.5" textLength="769.60" lengthAdjust="spacingAndGlyphs">AT<tspan font-weight="bold">CG</tspan>GA<tspan font-weight="bold">CG</tspan>TAGGGATCCTCAG<tspan font-weight="bold">CG</tspan>CCATCCCACCT<tspan font-weight="bold">CG</tspan>CTCCCCTTTTATTGTAAATATG</text>
<line x1="1147.55" y1="486.10" x2="1176.37" y2="486.10" stroke="#222" stroke-width="1.5"/>
<text x="1162.76" y="502.30" font-size="17.3" text-anchor="middle" textLength="15.39" lengthAdjust="spacingAndGlyphs">16</text>
<line x1="1204.13" y1="486.10" x2="1232.95" y2="486.10" stroke="#222" stroke-width="1.5"/>
<text x="1219.34" y="502.30" font-size="17.3" text-anchor="middle" textLength="15.39" lengthAdjust="spacingAndGlyphs">17</text>
<line x1="1408.02" y1="486.10" x2="1436.84" y2="486.10" stroke="#222" stroke-width="1.5"/>
<text x="1423.23" y="502.30" font-size="17.3" text-anchor="middle" textLength="15.39" lengthAdjust="spacingAndGlyphs">18</text>
<line x1="1583.07" y1="486.10" x2="1611.89" y2="486.10" stroke="#222" stroke-width="1.5"/>
<text x="1598.28" y="502.30" font-size="17.3" text-anchor="middle" textLength="15.39" lengthAdjust="spacingAndGlyphs">19</text>
<text x="1123.00" y="523.00" font-size="19.5" textLength="763.40" lengthAdjust="spacingAndGlyphs">GGGAGACTGAGGCCCAAGTTGAAAGGACTTGCCTAG<tspan font-weight="bold">CGCG</tspan>TTATGGTCAGAGCTGG</text>
<line x1="1613.77" y1="527.90" x2="1671.51" y2="527.90" stroke="#222" stroke-width="1.5"/>
<text x="1631.51" y="544.10" font-size="17.3" text-anchor="middle" textLength="15.39" lengthAdjust="spacingAndGlyphs">20</text>
<text x="1658.87" y="544.10" font-size="17.3" text-anchor="middle" textLength="15.39" lengthAdjust="spacingAndGlyphs">21</text>
<text x="1123.00" y="565.60" font-size="19.5" textLength="771.70" lengthAdjust="spacingAndGlyphs">GTTTTGAACT<tspan font-weight="bold">CG</tspan>GGACTCTGGA<tspan font-weight="bold">CG</tspan>CTTGGCACCAAATCCTTTCAAGTTGTAAGTGGAG</text>
<line x1="1251.07" y1="570.50" x2="1279.89" y2="570.50" stroke="#222" stroke-width="1.5"/>
<text x="1266.28" y="586.70" font-size="17.3" text-anchor="middle" textLength="15.39" lengthAdjust="spacingAndGlyphs">22</text>
<line x1="1416.52" y1="570.50" x2="1445.34" y2="570.50" stroke="#222" stroke-width="1.5"/>
<text x="1431.73" y="586.70" font-size="17.3" text-anchor="middle" textLength="15.39" lengthAdjust="spacingAndGlyphs">23</text>
<text x="1123.00" y="607.70" font-size="19.5" textLength="740.80" lengthAdjust="spacingAndGlyphs">CTTTGGAAAAGTCTCCTC<tspan font-weight="bold">CG</tspan>GCCTCTGAAGTTTTTCCTGCTGGACTTTGGCCTTT…</text>
<line x1="1358.24" y1="612.60" x2="1386.98" y2="612.60" stroke="#222" stroke-width="1.5"/>
<text x="1373.41" y="628.80" font-size="17.3" text-anchor="middle" textLength="15.39" lengthAdjust="spacingAndGlyphs">24</text>
<text x="1192.20" y="668.80" font-size="20.2" font-weight="bold" text-anchor="middle">1</text>
<text x="1226.80" y="668.80" font-size="20.2" font-weight="bold" text-anchor="middle">2</text>
<text x="1255.20" y="668.80" font-size="20.2" font-weight="bold" text-anchor="middle">3</text>
<text x="1284.30" y="668.80" font-size="20.2" font-weight="bold" text-anchor="middle">4</text>
<text x="1313.50" y="668.80" font-size="20.2" font-weight="bold" text-anchor="middle">5</text>
<text x="1347.30" y="668.80" font-size="20.2" font-weight="bold" text-anchor="middle">6</text>
<text x="1376.00" y="668.80" font-size="20.2" font-weight="bold" text-anchor="middle">7</text>
<text x="1405.00" y="668.80" font-size="20.2" font-weight="bold" text-anchor="middle">8</text>
<text x="1433.80" y="668.80" font-size="20.2" font-weight="bold" text-anchor="middle">9</text>
<text x="1463.10" y="668.80" font-size="20.2" font-weight="bold" text-anchor="middle">10</text>
<text x="1491.50" y="668.80" font-size="20.2" font-weight="bold" text-anchor="middle">11</text>
<text x="1520.70" y="668.80" font-size="20.2" font-weight="bold" text-anchor="middle">12</text>
<text x="1549.40" y="668.80" font-size="20.2" font-weight="bold" text-anchor="middle">13</text>
<text x="1578.30" y="668.80" font-size="20.2" font-weight="bold" text-anchor="middle">14</text>
<text x="1607.60" y="668.80" font-size="20.2" font-weight="bold" text-anchor="middle">15</text>
<text x="1636.20" y="668.80" font-size="20.2" font-weight="bold" text-anchor="middle">16</text>
<text x="1664.90" y="668.80" font-size="20.2" font-weight="bold" text-anchor="middle">17</text>
<text x="1693.50" y="668.80" font-size="20.2" font-weight="bold" text-anchor="middle">18</text>
<text x="1722.20" y="668.80" font-size="20.2" font-weight="bold" text-anchor="middle">19</text>
<text x="1756.60" y="668.80" font-size="20.2" font-weight="bold" text-anchor="middle">20</text>
<text x="1784.40" y="668.80" font-size="20.2" font-weight="bold" text-anchor="middle">21</text>
<text x="1813.90" y="668.80" font-size="20.2" font-weight="bold" text-anchor="middle">22</text>
<text x="1842.50" y="668.80" font-size="20.2" font-weight="bold" text-anchor="middle">23</text>
<text x="1871.20" y="668.80" font-size="20.2" font-weight="bold" text-anchor="middle">24</text>
<text x="1080.22" y="698.10" font-size="19.6" font-weight="bold" textLength="89.05" lengthAdjust="spacingAndGlyphs">SV-HUC1</text>
<g stroke="#000" stroke-width="2.7"><circle cx="1198.50" cy="690.40" r="10.3" fill="#fff"/><circle cx="1227.84" cy="690.40" r="10.3" fill="#d9d9d9"/><circle cx="1257.18" cy="690.40" r="10.3" fill="#fff"/><circle cx="1286.52" cy="690.40" r="10.3" fill="#fff"/><circle cx="1315.86" cy="690.40" r="10.3" fill="#fff"/><circle cx="1345.20" cy="690.40" r="10.3" fill="#fff"/><circle cx="1374.54" cy="690.40" r="10.3" fill="#fff"/><circle cx="1403.88" cy="690.40" r="10.3" fill="#fff"/><circle cx="1433.22" cy="690.40" r="10.3" fill="#fff"/><circle cx="1462.56" cy="690.40" r="10.3" fill="#fff"/><circle cx="1491.90" cy="690.40" r="10.3" fill="#fff"/><circle cx="1521.24" cy="690.40" r="10.3" fill="#fff"/><circle cx="1550.58" cy="690.40" r="10.3" fill="#fff"/><circle cx="1579.92" cy="690.40" r="10.3" fill="#fff"/><circle cx="1609.26" cy="690.40" r="10.3" fill="#fff"/><circle cx="1638.60" cy="690.40" r="10.3" fill="#fff"/><circle cx="1667.94" cy="690.40" r="10.3" fill="#fff"/><circle cx="1697.28" cy="690.40" r="10.3" fill="#fff"/><circle cx="1726.62" cy="690.40" r="10.3" fill="#fff"/><circle cx="1755.96" cy="690.40" r="10.3" fill="#d9d9d9"/><circle cx="1785.30" cy="690.40" r="10.3" fill="#fff"/><circle cx="1814.64" cy="690.40" r="10.3" fill="#fff"/><circle cx="1843.98" cy="690.40" r="10.3" fill="#fff"/><circle cx="1873.32" cy="690.40" r="10.3" fill="#d9d9d9"/></g>
<text x="1126.07" y="730.00" font-size="19.6" font-weight="bold" textLength="45.43" lengthAdjust="spacingAndGlyphs">5637</text>
<g stroke="#000" stroke-width="2.7"><circle cx="1198.50" cy="723.60" r="10.3" fill="#fff"/><circle cx="1227.84" cy="723.60" r="10.3" fill="#fff"/><circle cx="1257.18" cy="723.60" r="10.3" fill="#fff"/><circle cx="1286.52" cy="723.60" r="10.3" fill="#fff"/><circle cx="1315.86" cy="723.60" r="10.3" fill="#fff"/><circle cx="1345.20" cy="723.60" r="10.3" fill="#fff"/><circle cx="1374.54" cy="723.60" r="10.3" fill="#fff"/><circle cx="1403.88" cy="723.60" r="10.3" fill="#fff"/><circle cx="1433.22" cy="723.60" r="10.3" fill="#fff"/><circle cx="1462.56" cy="723.60" r="10.3" fill="#fff"/><circle cx="1491.90" cy="723.60" r="10.3" fill="#fff"/><circle cx="1521.24" cy="723.60" r="10.3" fill="#fff"/><circle cx="1550.58" cy="723.60" r="10.3" fill="#fff"/><circle cx="1579.92" cy="723.60" r="10.3" fill="#fff"/><circle cx="1609.26" cy="723.60" r="10.3" fill="#fff"/><circle cx="1638.60" cy="723.60" r="10.3" fill="#fff"/><circle cx="1667.94" cy="723.60" r="10.3" fill="#fff"/><circle cx="1697.28" cy="723.60" r="10.3" fill="#fff"/><circle cx="1726.62" cy="723.60" r="10.3" fill="#fff"/><circle cx="1755.96" cy="723.60" r="10.3" fill="#fff"/><circle cx="1785.30" cy="723.60" r="10.3" fill="#fff"/><circle cx="1814.64" cy="723.60" r="10.3" fill="#fff"/><circle cx="1843.98" cy="723.60" r="10.3" fill="#fff"/><circle cx="1873.32" cy="723.60" r="10.3" fill="#fff"/></g>
<text x="1137.88" y="762.00" font-size="19.6" font-weight="bold" textLength="33.42" lengthAdjust="spacingAndGlyphs">T24</text>
<g stroke="#000" stroke-width="2.7"><circle cx="1198.50" cy="756.80" r="10.3" fill="#fff"/><circle cx="1227.84" cy="756.80" r="10.3" fill="#fff"/><circle cx="1257.18" cy="756.80" r="10.3" fill="#fff"/><circle cx="1286.52" cy="756.80" r="10.3" fill="#fff"/><circle cx="1315.86" cy="756.80" r="10.3" fill="#fff"/><circle cx="1345.20" cy="756.80" r="10.3" fill="#fff"/><circle cx="1374.54" cy="756.80" r="10.3" fill="#fff"/><circle cx="1403.88" cy="756.80" r="10.3" fill="#fff"/><circle cx="1433.22" cy="756.80" r="10.3" fill="#fff"/><circle cx="1462.56" cy="756.80" r="10.3" fill="#fff"/><circle cx="1491.90" cy="756.80" r="10.3" fill="#fff"/><circle cx="1521.24" cy="756.80" r="10.3" fill="#fff"/><circle cx="1550.58" cy="756.80" r="10.3" fill="#fff"/><circle cx="1579.92" cy="756.80" r="10.3" fill="#fff"/><circle cx="1609.26" cy="756.80" r="10.3" fill="#fff"/><circle cx="1638.60" cy="756.80" r="10.3" fill="#7a7474"/><circle cx="1667.94" cy="756.80" r="10.3" fill="#7a7474"/><circle cx="1697.28" cy="756.80" r="10.3" fill="#7a7474"/><circle cx="1726.62" cy="756.80" r="10.3" fill="#000"/><circle cx="1755.96" cy="756.80" r="10.3" fill="#000"/><circle cx="1785.30" cy="756.80" r="10.3" fill="#000"/><circle cx="1814.64" cy="756.80" r="10.3" fill="#d9d9d9"/><circle cx="1843.98" cy="756.80" r="10.3" fill="#fff"/><circle cx="1873.32" cy="756.80" r="10.3" fill="#7a7474"/></g>
<text x="1090.65" y="793.20" font-size="19.6" font-weight="bold" textLength="80.70" lengthAdjust="spacingAndGlyphs">UMUC-3</text>
<g stroke="#000" stroke-width="2.7"><circle cx="1198.50" cy="789.60" r="10.3" fill="#fff"/><circle cx="1227.84" cy="789.60" r="10.3" fill="#fff"/><circle cx="1257.18" cy="789.60" r="10.3" fill="#fff"/><circle cx="1286.52" cy="789.60" r="10.3" fill="#fff"/><circle cx="1315.86" cy="789.60" r="10.3" fill="#fff"/><circle cx="1345.20" cy="789.60" r="10.3" fill="#fff"/><circle cx="1374.54" cy="789.60" r="10.3" fill="#fff"/><circle cx="1403.88" cy="789.60" r="10.3" fill="#fff"/><circle cx="1433.22" cy="789.60" r="10.3" fill="#fff"/><circle cx="1462.56" cy="789.60" r="10.3" fill="#fff"/><circle cx="1491.90" cy="789.60" r="10.3" fill="#fff"/><circle cx="1521.24" cy="789.60" r="10.3" fill="#fff"/><circle cx="1550.58" cy="789.60" r="10.3" fill="#fff"/><circle cx="1579.92" cy="789.60" r="10.3" fill="#d9d9d9"/><circle cx="1609.26" cy="789.60" r="10.3" fill="#fff"/><circle cx="1638.60" cy="789.60" r="10.3" fill="#000"/><circle cx="1667.94" cy="789.60" r="10.3" fill="#7a7474"/><circle cx="1697.28" cy="789.60" r="10.3" fill="#7a7474"/><circle cx="1726.62" cy="789.60" r="10.3" fill="#7a7474"/><circle cx="1755.96" cy="789.60" r="10.3" fill="#000"/><circle cx="1785.30" cy="789.60" r="10.3" fill="#000"/><circle cx="1814.64" cy="789.60" r="10.3" fill="#fff"/><circle cx="1843.98" cy="789.60" r="10.3" fill="#7a7474"/><circle cx="1873.32" cy="789.60" r="10.3" fill="#d9d9d9"/></g>
<text x="1142.12" y="842.00" font-size="19.5" font-weight="bold" textLength="24.93" lengthAdjust="spacingAndGlyphs">N1</text>
<g stroke="#000" stroke-width="2.7"><circle cx="1195.00" cy="836.90" r="10.3" fill="#fff"/><circle cx="1224.32" cy="836.90" r="10.3" fill="#fff"/><circle cx="1253.64" cy="836.90" r="10.3" fill="#fff"/><circle cx="1282.96" cy="836.90" r="10.3" fill="#fff"/><circle cx="1312.28" cy="836.90" r="10.3" fill="#fff"/><circle cx="1341.60" cy="836.90" r="10.3" fill="#fff"/><circle cx="1370.92" cy="836.90" r="10.3" fill="#fff"/><circle cx="1400.24" cy="836.90" r="10.3" fill="#fff"/><circle cx="1429.56" cy="836.90" r="10.3" fill="#fff"/><circle cx="1458.88" cy="836.90" r="10.3" fill="#fff"/><circle cx="1488.20" cy="836.90" r="10.3" fill="#fff"/><circle cx="1517.52" cy="836.90" r="10.3" fill="#fff"/><circle cx="1546.84" cy="836.90" r="10.3" fill="#fff"/><circle cx="1576.16" cy="836.90" r="10.3" fill="#fff"/><circle cx="1605.48" cy="836.90" r="10.3" fill="#fff"/><circle cx="1634.80" cy="836.90" r="10.3" fill="#fff"/><circle cx="1664.12" cy="836.90" r="10.3" fill="#fff"/><circle cx="1693.44" cy="836.90" r="10.3" fill="#fff"/><circle cx="1722.76" cy="836.90" r="10.3" fill="#fff"/><circle cx="1752.08" cy="836.90" r="10.3" fill="#d9d9d9"/><circle cx="1781.40" cy="836.90" r="10.3" fill="#d9d9d9"/><circle cx="1810.72" cy="836.90" r="10.3" fill="#fff"/><circle cx="1840.04" cy="836.90" r="10.3" fill="#fff"/><circle cx="1869.36" cy="836.90" r="10.3" fill="#fff"/></g>
<text x="1142.35" y="876.40" font-size="19.5" font-weight="bold" textLength="24.93" lengthAdjust="spacingAndGlyphs">N2</text>
<g stroke="#000" stroke-width="2.7"><circle cx="1195.00" cy="871.30" r="10.3" fill="#fff"/><circle cx="1224.32" cy="871.30" r="10.3" fill="#d9d9d9"/><circle cx="1253.64" cy="871.30" r="10.3" fill="#fff"/><circle cx="1282.96" cy="871.30" r="10.3" fill="#fff"/><circle cx="1312.28" cy="871.30" r="10.3" fill="#fff"/><circle cx="1341.60" cy="871.30" r="10.3" fill="#fff"/><circle cx="1370.92" cy="871.30" r="10.3" fill="#fff"/><circle cx="1400.24" cy="871.30" r="10.3" fill="#fff"/><circle cx="1429.56" cy="871.30" r="10.3" fill="#fff"/><circle cx="1458.88" cy="871.30" r="10.3" fill="#fff"/><circle cx="1488.20" cy="871.30" r="10.3" fill="#fff"/><circle cx="1517.52" cy="871.30" r="10.3" fill="#fff"/><circle cx="1546.84" cy="871.30" r="10.3" fill="#fff"/><circle cx="1576.16" cy="871.30" r="10.3" fill="#fff"/><circle cx="1605.48" cy="871.30" r="10.3" fill="#fff"/><circle cx="1634.80" cy="871.30" r="10.3" fill="#fff"/><circle cx="1664.12" cy="871.30" r="10.3" fill="#fff"/><circle cx="1693.44" cy="871.30" r="10.3" fill="#fff"/><circle cx="1722.76" cy="871.30" r="10.3" fill="#fff"/><circle cx="1752.08" cy="871.30" r="10.3" fill="#fff"/><circle cx="1781.40" cy="871.30" r="10.3" fill="#fff"/><circle cx="1810.72" cy="871.30" r="10.3" fill="#fff"/><circle cx="1840.04" cy="871.30" r="10.3" fill="#fff"/><circle cx="1869.36" cy="871.30" r="10.3" fill="#d9d9d9"/></g>
<text x="1142.28" y="911.60" font-size="19.5" font-weight="bold" textLength="24.93" lengthAdjust="spacingAndGlyphs">N3</text>
<g stroke="#000" stroke-width="2.7"><circle cx="1195.00" cy="906.50" r="10.3" fill="#fff"/><circle cx="1224.32" cy="906.50" r="10.3" fill="#fff"/><circle cx="1253.64" cy="906.50" r="10.3" fill="#fff"/><circle cx="1282.96" cy="906.50" r="10.3" fill="#fff"/><circle cx="1312.28" cy="906.50" r="10.3" fill="#fff"/><circle cx="1341.60" cy="906.50" r="10.3" fill="#fff"/><circle cx="1370.92" cy="906.50" r="10.3" fill="#fff"/><circle cx="1400.24" cy="906.50" r="10.3" fill="#fff"/><circle cx="1429.56" cy="906.50" r="10.3" fill="#fff"/><circle cx="1458.88" cy="906.50" r="10.3" fill="#fff"/><circle cx="1488.20" cy="906.50" r="10.3" fill="#fff"/><circle cx="1517.52" cy="906.50" r="10.3" fill="#fff"/><circle cx="1546.84" cy="906.50" r="10.3" fill="#fff"/><circle cx="1576.16" cy="906.50" r="10.3" fill="#fff"/><circle cx="1605.48" cy="906.50" r="10.3" fill="#fff"/><circle cx="1634.80" cy="906.50" r="10.3" fill="#fff"/><circle cx="1664.12" cy="906.50" r="10.3" fill="#fff"/><circle cx="1693.44" cy="906.50" r="10.3" fill="#fff"/><circle cx="1722.76" cy="906.50" r="10.3" fill="#fff"/><circle cx="1752.08" cy="906.50" r="10.3" fill="#fff"/><circle cx="1781.40" cy="906.50" r="10.3" fill="#fff"/><circle cx="1810.72" cy="906.50" r="10.3" fill="#fff"/><circle cx="1840.04" cy="906.50" r="10.3" fill="#fff"/><circle cx="1869.36" cy="906.50" r="10.3" fill="#fff"/></g>
<text x="1141.68" y="946.50" font-size="19.5" font-weight="bold" textLength="24.93" lengthAdjust="spacingAndGlyphs">N4</text>
<g stroke="#000" stroke-width="2.7"><circle cx="1195.00" cy="941.40" r="10.3" fill="#fff"/><circle cx="1224.32" cy="941.40" r="10.3" fill="#fff"/><circle cx="1253.64" cy="941.40" r="10.3" fill="#fff"/><circle cx="1282.96" cy="941.40" r="10.3" fill="#fff"/><circle cx="1312.28" cy="941.40" r="10.3" fill="#fff"/><circle cx="1341.60" cy="941.40" r="10.3" fill="#fff"/><circle cx="1370.92" cy="941.40" r="10.3" fill="#fff"/><circle cx="1400.24" cy="941.40" r="10.3" fill="#fff"/><circle cx="1429.56" cy="941.40" r="10.3" fill="#fff"/><circle cx="1458.88" cy="941.40" r="10.3" fill="#fff"/><circle cx="1488.20" cy="941.40" r="10.3" fill="#fff"/><circle cx="1517.52" cy="941.40" r="10.3" fill="#fff"/><circle cx="1546.84" cy="941.40" r="10.3" fill="#fff"/><circle cx="1576.16" cy="941.40" r="10.3" fill="#fff"/><circle cx="1605.48" cy="941.40" r="10.3" fill="#fff"/><circle cx="1634.80" cy="941.40" r="10.3" fill="#fff"/><circle cx="1664.12" cy="941.40" r="10.3" fill="#fff"/><circle cx="1693.44" cy="941.40" r="10.3" fill="#fff"/><circle cx="1722.76" cy="941.40" r="10.3" fill="#fff"/><circle cx="1752.08" cy="941.40" r="10.3" fill="#fff"/><circle cx="1781.40" cy="941.40" r="10.3" fill="#fff"/><circle cx="1810.72" cy="941.40" r="10.3" fill="#fff"/><circle cx="1840.04" cy="941.40" r="10.3" fill="#fff"/><circle cx="1869.36" cy="941.40" r="10.3" fill="#fff"/></g>
<text x="1142.12" y="981.10" font-size="19.5" font-weight="bold" textLength="24.93" lengthAdjust="spacingAndGlyphs">N5</text>
<g stroke="#000" stroke-width="2.7"><circle cx="1195.00" cy="976.00" r="10.3" fill="#fff"/><circle cx="1224.32" cy="976.00" r="10.3" fill="#fff"/><circle cx="1253.64" cy="976.00" r="10.3" fill="#fff"/><circle cx="1282.96" cy="976.00" r="10.3" fill="#fff"/><circle cx="1312.28" cy="976.00" r="10.3" fill="#fff"/><circle cx="1341.60" cy="976.00" r="10.3" fill="#fff"/><circle cx="1370.92" cy="976.00" r="10.3" fill="#fff"/><circle cx="1400.24" cy="976.00" r="10.3" fill="#fff"/><circle cx="1429.56" cy="976.00" r="10.3" fill="#fff"/><circle cx="1458.88" cy="976.00" r="10.3" fill="#fff"/><circle cx="1488.20" cy="976.00" r="10.3" fill="#fff"/><circle cx="1517.52" cy="976.00" r="10.3" fill="#fff"/><circle cx="1546.84" cy="976.00" r="10.3" fill="#fff"/><circle cx="1576.16" cy="976.00" r="10.3" fill="#fff"/><circle cx="1605.48" cy="976.00" r="10.3" fill="#fff"/><circle cx="1634.80" cy="976.00" r="10.3" fill="#fff"/><circle cx="1664.12" cy="976.00" r="10.3" fill="#fff"/><circle cx="1693.44" cy="976.00" r="10.3" fill="#d9d9d9"/><circle cx="1722.76" cy="976.00" r="10.3" fill="#fff"/><circle cx="1752.08" cy="976.00" r="10.3" fill="#fff"/><circle cx="1781.40" cy="976.00" r="10.3" fill="#fff"/><circle cx="1810.72" cy="976.00" r="10.3" fill="#fff"/><circle cx="1840.04" cy="976.00" r="10.3" fill="#fff"/><circle cx="1869.36" cy="976.00" r="10.3" fill="#fff"/></g>
<text x="1142.99" y="1038.20" font-size="19.5" font-weight="bold" textLength="22.76" lengthAdjust="spacingAndGlyphs">T1</text>
<g stroke="#000" stroke-width="2.7"><circle cx="1193.30" cy="1032.60" r="10.3" fill="#fff"/><circle cx="1222.63" cy="1032.60" r="10.3" fill="#fff"/><circle cx="1251.96" cy="1032.60" r="10.3" fill="#fff"/><circle cx="1281.29" cy="1032.60" r="10.3" fill="#fff"/><circle cx="1310.62" cy="1032.60" r="10.3" fill="#fff"/><circle cx="1339.95" cy="1032.60" r="10.3" fill="#fff"/><circle cx="1369.28" cy="1032.60" r="10.3" fill="#fff"/><circle cx="1398.61" cy="1032.60" r="10.3" fill="#fff"/><circle cx="1427.94" cy="1032.60" r="10.3" fill="#fff"/><circle cx="1457.27" cy="1032.60" r="10.3" fill="#fff"/><circle cx="1486.60" cy="1032.60" r="10.3" fill="#d9d9d9"/><circle cx="1515.93" cy="1032.60" r="10.3" fill="#fff"/><circle cx="1545.26" cy="1032.60" r="10.3" fill="#fff"/><circle cx="1574.59" cy="1032.60" r="10.3" fill="#fff"/><circle cx="1603.92" cy="1032.60" r="10.3" fill="#fff"/><circle cx="1633.25" cy="1032.60" r="10.3" fill="#7a7474"/><circle cx="1662.58" cy="1032.60" r="10.3" fill="#fff"/><circle cx="1691.91" cy="1032.60" r="10.3" fill="#d9d9d9"/><circle cx="1721.24" cy="1032.60" r="10.3" fill="#7a7474"/><circle cx="1750.57" cy="1032.60" r="10.3" fill="#d9d9d9"/><circle cx="1779.90" cy="1032.60" r="10.3" fill="#d9d9d9"/><circle cx="1809.23" cy="1032.60" r="10.3" fill="#d9d9d9"/><circle cx="1838.56" cy="1032.60" r="10.3" fill="#fff"/><circle cx="1867.89" cy="1032.60" r="10.3" fill="#000"/></g>
<text x="1143.22" y="1073.00" font-size="19.5" font-weight="bold" textLength="22.76" lengthAdjust="spacingAndGlyphs">T2</text>
<g stroke="#000" stroke-width="2.7"><circle cx="1193.30" cy="1067.40" r="10.3" fill="#fff"/><circle cx="1222.63" cy="1067.40" r="10.3" fill="#fff"/><circle cx="1251.96" cy="1067.40" r="10.3" fill="#fff"/><circle cx="1281.29" cy="1067.40" r="10.3" fill="#fff"/><circle cx="1310.62" cy="1067.40" r="10.3" fill="#fff"/><circle cx="1339.95" cy="1067.40" r="10.3" fill="#fff"/><circle cx="1369.28" cy="1067.40" r="10.3" fill="#fff"/><circle cx="1398.61" cy="1067.40" r="10.3" fill="#fff"/><circle cx="1427.94" cy="1067.40" r="10.3" fill="#fff"/><circle cx="1457.27" cy="1067.40" r="10.3" fill="#fff"/><circle cx="1486.60" cy="1067.40" r="10.3" fill="#000"/><circle cx="1515.93" cy="1067.40" r="10.3" fill="#fff"/><circle cx="1545.26" cy="1067.40" r="10.3" fill="#fff"/><circle cx="1574.59" cy="1067.40" r="10.3" fill="#fff"/><circle cx="1603.92" cy="1067.40" r="10.3" fill="#fff"/><circle cx="1633.25" cy="1067.40" r="10.3" fill="#000"/><circle cx="1662.58" cy="1067.40" r="10.3" fill="#000"/><circle cx="1691.91" cy="1067.40" r="10.3" fill="#000"/><circle cx="1721.24" cy="1067.40" r="10.3" fill="#000"/><circle cx="1750.57" cy="1067.40" r="10.3" fill="#000"/><circle cx="1779.90" cy="1067.40" r="10.3" fill="#000"/><circle cx="1809.23" cy="1067.40" r="10.3" fill="#000"/><circle cx="1838.56" cy="1067.40" r="10.3" fill="#fff"/><circle cx="1867.89" cy="1067.40" r="10.3" fill="#000"/></g>
<text x="1143.15" y="1107.70" font-size="19.5" font-weight="bold" textLength="22.76" lengthAdjust="spacingAndGlyphs">T3</text>
<g stroke="#000" stroke-width="2.7"><circle cx="1193.30" cy="1102.10" r="10.3" fill="#d9d9d9"/><circle cx="1222.63" cy="1102.10" r="10.3" fill="#fff"/><circle cx="1251.96" cy="1102.10" r="10.3" fill="#fff"/><circle cx="1281.29" cy="1102.10" r="10.3" fill="#fff"/><circle cx="1310.62" cy="1102.10" r="10.3" fill="#fff"/><circle cx="1339.95" cy="1102.10" r="10.3" fill="#fff"/><circle cx="1369.28" cy="1102.10" r="10.3" fill="#fff"/><circle cx="1398.61" cy="1102.10" r="10.3" fill="#fff"/><circle cx="1427.94" cy="1102.10" r="10.3" fill="#fff"/><circle cx="1457.27" cy="1102.10" r="10.3" fill="#fff"/><circle cx="1486.60" cy="1102.10" r="10.3" fill="#fff"/><circle cx="1515.93" cy="1102.10" r="10.3" fill="#fff"/><circle cx="1545.26" cy="1102.10" r="10.3" fill="#fff"/><circle cx="1574.59" cy="1102.10" r="10.3" fill="#fff"/><circle cx="1603.92" cy="1102.10" r="10.3" fill="#fff"/><circle cx="1633.25" cy="1102.10" r="10.3" fill="#d9d9d9"/><circle cx="1662.58" cy="1102.10" r="10.3" fill="#d9d9d9"/><circle cx="1691.91" cy="1102.10" r="10.3" fill="#d9d9d9"/><circle cx="1721.24" cy="1102.10" r="10.3" fill="#d9d9d9"/><circle cx="1750.57" cy="1102.10" r="10.3" fill="#d9d9d9"/><circle cx="1779.90" cy="1102.10" r="10.3" fill="#d9d9d9"/><circle cx="1809.23" cy="1102.10" r="10.3" fill="#fff"/><circle cx="1838.56" cy="1102.10" r="10.3" fill="#fff"/><circle cx="1867.89" cy="1102.10" r="10.3" fill="#d9d9d9"/></g>
<text x="1142.55" y="1142.40" font-size="19.5" font-weight="bold" textLength="22.76" lengthAdjust="spacingAndGlyphs">T4</text>
<g stroke="#000" stroke-width="2.7"><circle cx="1193.30" cy="1136.80" r="10.3" fill="#fff"/><circle cx="1222.63" cy="1136.80" r="10.3" fill="#fff"/><circle cx="1251.96" cy="1136.80" r="10.3" fill="#fff"/><circle cx="1281.29" cy="1136.80" r="10.3" fill="#fff"/><circle cx="1310.62" cy="1136.80" r="10.3" fill="#fff"/><circle cx="1339.95" cy="1136.80" r="10.3" fill="#fff"/><circle cx="1369.28" cy="1136.80" r="10.3" fill="#fff"/><circle cx="1398.61" cy="1136.80" r="10.3" fill="#fff"/><circle cx="1427.94" cy="1136.80" r="10.3" fill="#fff"/><circle cx="1457.27" cy="1136.80" r="10.3" fill="#fff"/><circle cx="1486.60" cy="1136.80" r="10.3" fill="#fff"/><circle cx="1515.93" cy="1136.80" r="10.3" fill="#fff"/><circle cx="1545.26" cy="1136.80" r="10.3" fill="#fff"/><circle cx="1574.59" cy="1136.80" r="10.3" fill="#fff"/><circle cx="1603.92" cy="1136.80" r="10.3" fill="#fff"/><circle cx="1633.25" cy="1136.80" r="10.3" fill="#858383"/><circle cx="1662.58" cy="1136.80" r="10.3" fill="#858383"/><circle cx="1691.91" cy="1136.80" r="10.3" fill="#858383"/><circle cx="1721.24" cy="1136.80" r="10.3" fill="#858383"/><circle cx="1750.57" cy="1136.80" r="10.3" fill="#000"/><circle cx="1779.90" cy="1136.80" r="10.3" fill="#000"/><circle cx="1809.23" cy="1136.80" r="10.3" fill="#fff"/><circle cx="1838.56" cy="1136.80" r="10.3" fill="#fff"/><circle cx="1867.89" cy="1136.80" r="10.3" fill="#000"/></g>
<text x="1142.99" y="1177.30" font-size="19.5" font-weight="bold" textLength="22.76" lengthAdjust="spacingAndGlyphs">T5</text>
<g stroke="#000" stroke-width="2.7"><circle cx="1193.30" cy="1171.70" r="10.3" fill="#7a7474"/><circle cx="1222.63" cy="1171.70" r="10.3" fill="#fff"/><circle cx="1251.96" cy="1171.70" r="10.3" fill="#fff"/><circle cx="1281.29" cy="1171.70" r="10.3" fill="#fff"/><circle cx="1310.62" cy="1171.70" r="10.3" fill="#fff"/><circle cx="1339.95" cy="1171.70" r="10.3" fill="#fff"/><circle cx="1369.28" cy="1171.70" r="10.3" fill="#fff"/><circle cx="1398.61" cy="1171.70" r="10.3" fill="#fff"/><circle cx="1427.94" cy="1171.70" r="10.3" fill="#fff"/><circle cx="1457.27" cy="1171.70" r="10.3" fill="#fff"/><circle cx="1486.60" cy="1171.70" r="10.3" fill="#fff"/><circle cx="1515.93" cy="1171.70" r="10.3" fill="#fff"/><circle cx="1545.26" cy="1171.70" r="10.3" fill="#fff"/><circle cx="1574.59" cy="1171.70" r="10.3" fill="#fff"/><circle cx="1603.92" cy="1171.70" r="10.3" fill="#fff"/><circle cx="1633.25" cy="1171.70" r="10.3" fill="#fff"/><circle cx="1662.58" cy="1171.70" r="10.3" fill="#7a7474"/><circle cx="1691.91" cy="1171.70" r="10.3" fill="#7a7474"/><circle cx="1721.24" cy="1171.70" r="10.3" fill="#7a7474"/><circle cx="1750.57" cy="1171.70" r="10.3" fill="#7a7474"/><circle cx="1779.90" cy="1171.70" r="10.3" fill="#7a7474"/><circle cx="1809.23" cy="1171.70" r="10.3" fill="#7a7474"/><circle cx="1838.56" cy="1171.70" r="10.3" fill="#fff"/><circle cx="1867.89" cy="1171.70" r="10.3" fill="#fff"/></g>
<circle cx="1219.90" cy="1217.50" r="10.00" fill="#fff" stroke="#000" stroke-width="2.7"/>
<text x="1240.98" y="1227.50" font-size="21.2" font-weight="bold" textLength="78.26" lengthAdjust="spacingAndGlyphs">0%-25%</text>
<circle cx="1389.90" cy="1217.50" r="10.00" fill="#d9d9d9" stroke="#000" stroke-width="2.7"/>
<text x="1411.88" y="1227.50" font-size="21.2" font-weight="bold" textLength="89.56" lengthAdjust="spacingAndGlyphs">26%-50%</text>
<circle cx="1560.00" cy="1217.50" r="10.00" fill="#7a7474" stroke="#000" stroke-width="2.7"/>
<text x="1581.27" y="1227.50" font-size="21.2" font-weight="bold" textLength="88.97" lengthAdjust="spacingAndGlyphs">51%-75%</text>
<circle cx="1730.20" cy="1217.50" r="10.00" fill="#000" stroke="#000" stroke-width="2.7"/>
<text x="1756.92" y="1227.50" font-size="21.2" font-weight="bold" textLength="100.22" lengthAdjust="spacingAndGlyphs">76%-100%</text>
<text x="2.47" y="428.30" font-size="36" font-weight="bold" textLength="24.63" lengthAdjust="spacingAndGlyphs">c</text>
<line x1="82.10" y1="448.00" x2="82.10" y2="746.20" stroke="#000" stroke-width="2.6"/>
<line x1="75.20" y1="744.90" x2="497.10" y2="744.90" stroke="#000" stroke-width="2.6"/>
<line x1="74.50" y1="744.90" x2="82.10" y2="744.90" stroke="#000" stroke-width="2.4"/>
<text x="68.40" y="751.30" font-size="18.6" font-weight="bold" text-anchor="end" textLength="26.80" lengthAdjust="spacingAndGlyphs">0.0</text>
<line x1="74.50" y1="685.70" x2="82.10" y2="685.70" stroke="#000" stroke-width="2.4"/>
<text x="68.40" y="692.10" font-size="18.6" font-weight="bold" text-anchor="end" textLength="26.80" lengthAdjust="spacingAndGlyphs">0.5</text>
<line x1="74.50" y1="626.50" x2="82.10" y2="626.50" stroke="#000" stroke-width="2.4"/>
<text x="68.40" y="632.90" font-size="18.6" font-weight="bold" text-anchor="end" textLength="26.80" lengthAdjust="spacingAndGlyphs">1.0</text>
<line x1="74.50" y1="567.30" x2="82.10" y2="567.30" stroke="#000" stroke-width="2.4"/>
<text x="68.40" y="573.70" font-size="18.6" font-weight="bold" text-anchor="end" textLength="26.80" lengthAdjust="spacingAndGlyphs">1.5</text>
<line x1="74.50" y1="508.10" x2="82.10" y2="508.10" stroke="#000" stroke-width="2.4"/>
<text x="68.40" y="514.50" font-size="18.6" font-weight="bold" text-anchor="end" textLength="26.80" lengthAdjust="spacingAndGlyphs">2.0</text>
<line x1="74.50" y1="448.90" x2="82.10" y2="448.90" stroke="#000" stroke-width="2.4"/>
<text x="68.40" y="455.30" font-size="18.6" font-weight="bold" text-anchor="end" textLength="26.80" lengthAdjust="spacingAndGlyphs">2.5</text>
<line x1="121.80" y1="744.90" x2="121.80" y2="754.30" stroke="#000" stroke-width="2.4"/>
<line x1="182.00" y1="744.90" x2="182.00" y2="754.30" stroke="#000" stroke-width="2.4"/>
<line x1="243.10" y1="744.90" x2="243.10" y2="754.30" stroke="#000" stroke-width="2.4"/>
<line x1="334.90" y1="744.90" x2="334.90" y2="754.30" stroke="#000" stroke-width="2.4"/>
<line x1="395.00" y1="744.90" x2="395.00" y2="754.30" stroke="#000" stroke-width="2.4"/>
<line x1="454.90" y1="744.90" x2="454.90" y2="754.30" stroke="#000" stroke-width="2.4"/>
<line x1="121.90" y1="624.80" x2="121.90" y2="614.80" stroke="#000" stroke-width="2.6"/>
<line x1="113.00" y1="614.80" x2="131.70" y2="614.80" stroke="#000" stroke-width="2.6"/>
<rect x="102.50" y="625.10" width="38.80" height="119.80" fill="#fff" stroke="#000" stroke-width="2.6"/>
<line x1="183.70" y1="593.80" x2="183.70" y2="580.40" stroke="#000" stroke-width="2.6"/>
<line x1="173.30" y1="580.40" x2="192.80" y2="580.40" stroke="#000" stroke-width="2.6"/>
<rect x="164.00" y="594.10" width="39.40" height="150.80" fill="#d4d4d4" stroke="#000" stroke-width="2.6"/>
<line x1="244.50" y1="522.60" x2="244.50" y2="515.50" stroke="#000" stroke-width="2.6"/>
<line x1="233.30" y1="515.50" x2="253.50" y2="515.50" stroke="#000" stroke-width="2.6"/>
<rect x="225.10" y="522.90" width="38.80" height="222.00" fill="#a09fa4" stroke="#000" stroke-width="2.6"/>
<line x1="334.00" y1="626.70" x2="334.00" y2="623.50" stroke="#000" stroke-width="2.6"/>
<line x1="324.50" y1="623.50" x2="344.00" y2="623.50" stroke="#000" stroke-width="2.6"/>
<rect x="314.30" y="627.00" width="39.40" height="117.90" fill="#fff" stroke="#000" stroke-width="2.6"/>
<line x1="394.95" y1="551.90" x2="394.95" y2="535.20" stroke="#000" stroke-width="2.6"/>
<line x1="385.60" y1="535.20" x2="404.30" y2="535.20" stroke="#000" stroke-width="2.6"/>
<rect x="375.40" y="552.20" width="39.10" height="192.70" fill="#d4d4d4" stroke="#000" stroke-width="2.6"/>
<line x1="455.90" y1="485.00" x2="455.90" y2="468.80" stroke="#000" stroke-width="2.6"/>
<line x1="446.30" y1="468.80" x2="464.90" y2="468.80" stroke="#000" stroke-width="2.6"/>
<rect x="436.20" y="485.30" width="39.40" height="259.60" fill="#a09fa4" stroke="#000" stroke-width="2.6"/>
<path d="M122.2,602.4 V483.4 H243.4 V509.8" stroke="#000" stroke-width="2.6" fill="none"/>
<path d="M122.2,553.7 H181.4 V571.8" stroke="#000" stroke-width="2.6" fill="none"/>
<path d="M333.1,610.1 V455.4 H457.2 V464" stroke="#000" stroke-width="2.6" fill="none"/>
<path d="M333.1,508.5 H394.2 V527" stroke="#000" stroke-width="2.6" fill="none"/>
<text x="153.70" y="553.95" font-size="21" text-anchor="middle" stroke="#000" stroke-width="0.7">*</text>
<text x="167.00" y="484.25" font-size="21" text-anchor="middle" stroke="#000" stroke-width="0.7">*</text>
<text x="181.40" y="484.25" font-size="21" text-anchor="middle" stroke="#000" stroke-width="0.7">*</text>
<text x="358.50" y="512.95" font-size="21" text-anchor="middle" stroke="#000" stroke-width="0.7">*</text>
<text x="370.30" y="512.95" font-size="21" text-anchor="middle" stroke="#000" stroke-width="0.7">*</text>
<text x="386.60" y="457.15" font-size="21" text-anchor="middle" stroke="#000" stroke-width="0.7">*</text>
<text x="396.00" y="457.15" font-size="21" text-anchor="middle" stroke="#000" stroke-width="0.7">*</text>
<text x="406.20" y="457.15" font-size="21" text-anchor="middle" stroke="#000" stroke-width="0.7">*</text>
<text x="155.82" y="433.40" font-size="21" font-weight="bold" textLength="49.05" lengthAdjust="spacingAndGlyphs">5637</text>
<text x="352.80" y="434.00" font-size="21" font-weight="bold" textLength="84.18" lengthAdjust="spacingAndGlyphs">UMUC-3</text>
<text x="106.00" y="776.90" font-size="21.3" font-weight="bold" textLength="30.76" lengthAdjust="spacingAndGlyphs">NC</text>
<text x="170.03" y="776.90" font-size="21.3" font-weight="bold" textLength="24.86" lengthAdjust="spacingAndGlyphs">3d</text>
<text x="231.05" y="776.90" font-size="21.3" font-weight="bold" textLength="24.86" lengthAdjust="spacingAndGlyphs">5d</text>
<text x="319.10" y="776.90" font-size="21.3" font-weight="bold" textLength="30.76" lengthAdjust="spacingAndGlyphs">NC</text>
<text x="383.03" y="776.90" font-size="21.3" font-weight="bold" textLength="24.86" lengthAdjust="spacingAndGlyphs">3d</text>
<text x="442.85" y="776.90" font-size="21.3" font-weight="bold" textLength="24.86" lengthAdjust="spacingAndGlyphs">5d</text>
<text x="133.53" y="800.10" font-size="21.1" font-weight="bold" textLength="298.76" lengthAdjust="spacingAndGlyphs">5-Aza-CdR treatment (10 μM)</text>
<g transform="translate(27.50,715.20) rotate(-90)">
<text x="-1.49" y="0.00" font-size="22.5" font-weight="bold" textLength="256.87" lengthAdjust="spacingAndGlyphs">Relative <tspan font-style="italic">Cbx7</tspan> expressio</text>
</g>
<text x="-0.94" y="840.60" font-size="38" font-weight="bold" textLength="28.91" lengthAdjust="spacingAndGlyphs">g</text>
<line x1="81.70" y1="870.50" x2="81.70" y2="1169.90" stroke="#000" stroke-width="2.6"/>
<line x1="74.60" y1="1168.60" x2="527.50" y2="1168.60" stroke="#000" stroke-width="2.6"/>
<line x1="75.00" y1="1168.60" x2="81.70" y2="1168.60" stroke="#000" stroke-width="2.4"/>
<text x="68.00" y="1175.00" font-size="18.6" font-weight="bold" text-anchor="end" textLength="26.80" lengthAdjust="spacingAndGlyphs">0.0</text>
<line x1="75.00" y1="1109.15" x2="81.70" y2="1109.15" stroke="#000" stroke-width="2.4"/>
<text x="68.00" y="1115.55" font-size="18.6" font-weight="bold" text-anchor="end" textLength="26.80" lengthAdjust="spacingAndGlyphs">0.5</text>
<line x1="75.00" y1="1049.70" x2="81.70" y2="1049.70" stroke="#000" stroke-width="2.4"/>
<text x="68.00" y="1056.10" font-size="18.6" font-weight="bold" text-anchor="end" textLength="26.80" lengthAdjust="spacingAndGlyphs">1.0</text>
<line x1="75.00" y1="990.25" x2="81.70" y2="990.25" stroke="#000" stroke-width="2.4"/>
<text x="68.00" y="996.65" font-size="18.6" font-weight="bold" text-anchor="end" textLength="26.80" lengthAdjust="spacingAndGlyphs">1.5</text>
<line x1="75.00" y1="930.80" x2="81.70" y2="930.80" stroke="#000" stroke-width="2.4"/>
<text x="68.00" y="937.20" font-size="18.6" font-weight="bold" text-anchor="end" textLength="26.80" lengthAdjust="spacingAndGlyphs">2.0</text>
<line x1="75.00" y1="871.35" x2="81.70" y2="871.35" stroke="#000" stroke-width="2.4"/>
<text x="68.00" y="877.75" font-size="18.6" font-weight="bold" text-anchor="end" textLength="26.80" lengthAdjust="spacingAndGlyphs">2.5</text>
<line x1="113.90" y1="1168.60" x2="113.90" y2="1176.70" stroke="#000" stroke-width="2.4"/>
<line x1="160.90" y1="1168.60" x2="160.90" y2="1176.70" stroke="#000" stroke-width="2.4"/>
<line x1="208.50" y1="1168.60" x2="208.50" y2="1176.70" stroke="#000" stroke-width="2.4"/>
<line x1="255.80" y1="1168.60" x2="255.80" y2="1176.70" stroke="#000" stroke-width="2.4"/>
<line x1="303.30" y1="1168.60" x2="303.30" y2="1176.70" stroke="#000" stroke-width="2.4"/>
<line x1="350.90" y1="1168.60" x2="350.90" y2="1176.70" stroke="#000" stroke-width="2.4"/>
<line x1="398.20" y1="1168.60" x2="398.20" y2="1176.70" stroke="#000" stroke-width="2.4"/>
<line x1="445.70" y1="1168.60" x2="445.70" y2="1176.70" stroke="#000" stroke-width="2.4"/>
<line x1="493.30" y1="1168.60" x2="493.30" y2="1176.70" stroke="#000" stroke-width="2.4"/>
<line x1="113.15" y1="1049.60" x2="113.15" y2="1045.00" stroke="#000" stroke-width="2.6"/>
<line x1="107.00" y1="1045.00" x2="120.30" y2="1045.00" stroke="#000" stroke-width="2.6"/>
<rect x="97.70" y="1049.90" width="30.90" height="118.70" fill="#fff" stroke="#000" stroke-width="2.6"/>
<line x1="160.80" y1="949.30" x2="160.80" y2="936.90" stroke="#000" stroke-width="2.6"/>
<line x1="154.30" y1="936.90" x2="168.00" y2="936.90" stroke="#000" stroke-width="2.6"/>
<rect x="145.90" y="949.60" width="29.80" height="219.00" fill="#d4d4d4" stroke="#000" stroke-width="2.6"/>
<line x1="208.15" y1="997.10" x2="208.15" y2="984.20" stroke="#000" stroke-width="2.6"/>
<line x1="202.40" y1="984.20" x2="215.80" y2="984.20" stroke="#000" stroke-width="2.6"/>
<rect x="193.20" y="997.40" width="29.90" height="171.20" fill="#a09fa4" stroke="#000" stroke-width="2.6"/>
<line x1="255.45" y1="1040.60" x2="255.45" y2="1032.90" stroke="#000" stroke-width="2.6"/>
<line x1="249.20" y1="1032.90" x2="263.60" y2="1032.90" stroke="#000" stroke-width="2.6"/>
<rect x="240.00" y="1040.90" width="30.90" height="127.70" fill="#000" stroke="#000" stroke-width="2.6"/>
<line x1="350.50" y1="1050.10" x2="350.50" y2="1043.00" stroke="#000" stroke-width="2.6"/>
<line x1="343.50" y1="1043.00" x2="358.20" y2="1043.00" stroke="#000" stroke-width="2.6"/>
<rect x="335.30" y="1050.40" width="30.40" height="118.20" fill="#fff" stroke="#000" stroke-width="2.6"/>
<line x1="397.95" y1="920.30" x2="397.95" y2="908.80" stroke="#000" stroke-width="2.6"/>
<line x1="390.70" y1="908.80" x2="406.00" y2="908.80" stroke="#000" stroke-width="2.6"/>
<rect x="383.00" y="920.60" width="29.90" height="248.00" fill="#d4d4d4" stroke="#000" stroke-width="2.6"/>
<line x1="445.20" y1="947.00" x2="445.20" y2="939.30" stroke="#000" stroke-width="2.6"/>
<line x1="438.00" y1="939.30" x2="453.30" y2="939.30" stroke="#000" stroke-width="2.6"/>
<rect x="430.20" y="947.30" width="30.00" height="221.30" fill="#a09fa4" stroke="#000" stroke-width="2.6"/>
<line x1="492.90" y1="1042.90" x2="492.90" y2="1038.00" stroke="#000" stroke-width="2.6"/>
<line x1="484.80" y1="1038.00" x2="501.00" y2="1038.00" stroke="#000" stroke-width="2.6"/>
<rect x="477.50" y="1043.20" width="30.80" height="125.40" fill="#000" stroke="#000" stroke-width="2.6"/>
<path d="M114.2,1036.8 V881.7 H209.5 V975.7" stroke="#000" stroke-width="2.6" fill="none"/>
<path d="M114.2,909.8 H160.4 V929.8" stroke="#000" stroke-width="2.6" fill="none"/>
<path d="M351.2,1027.2 V865.8 H446.6 V924.1" stroke="#000" stroke-width="2.6" fill="none"/>
<path d="M351.2,892.6 H397.0 V904" stroke="#000" stroke-width="2.6" fill="none"/>
<text x="126.00" y="912.45" font-size="16.5" text-anchor="middle" stroke="#000" stroke-width="0.7">*</text>
<text x="137.10" y="912.45" font-size="16.5" text-anchor="middle" stroke="#000" stroke-width="0.7">*</text>
<text x="149.00" y="912.45" font-size="16.5" text-anchor="middle" stroke="#000" stroke-width="0.7">*</text>
<text x="157.00" y="884.25" font-size="16.5" text-anchor="middle" stroke="#000" stroke-width="0.7">*</text>
<text x="168.40" y="884.25" font-size="16.5" text-anchor="middle" stroke="#000" stroke-width="0.7">*</text>
<text x="385.50" y="867.55" font-size="16.5" text-anchor="middle" stroke="#000" stroke-width="0.7">*</text>
<text x="396.40" y="867.55" font-size="16.5" text-anchor="middle" stroke="#000" stroke-width="0.7">*</text>
<text x="407.90" y="867.55" font-size="16.5" text-anchor="middle" stroke="#000" stroke-width="0.7">*</text>
<text x="362.60" y="895.25" font-size="16.5" text-anchor="middle" stroke="#000" stroke-width="0.7">*</text>
<text x="374.10" y="895.25" font-size="16.5" text-anchor="middle" stroke="#000" stroke-width="0.7">*</text>
<text x="384.60" y="895.25" font-size="16.5" text-anchor="middle" stroke="#000" stroke-width="0.7">*</text>
<text x="245.40" y="1024.70" font-size="21" textLength="22.00" lengthAdjust="spacingAndGlyphs">ns</text>
<text x="481.00" y="1027.20" font-size="21" textLength="22.30" lengthAdjust="spacingAndGlyphs">ns</text>
<text x="155.93" y="843.90" font-size="21" font-weight="bold" textLength="48.43" lengthAdjust="spacingAndGlyphs">5637</text>
<text x="352.70" y="843.90" font-size="21" font-weight="bold" textLength="84.18" lengthAdjust="spacingAndGlyphs">UMUC-3</text>
<text x="116.70" y="1191.80" font-size="20.7" font-weight="bold" text-anchor="end" transform="rotate(-30 116.70 1191.80)">Si-CTL</text>
<text x="163.70" y="1191.80" font-size="20.7" font-weight="bold" text-anchor="end" transform="rotate(-30 163.70 1191.80)">Si-DNMT1</text>
<text x="211.30" y="1191.80" font-size="20.7" font-weight="bold" text-anchor="end" transform="rotate(-30 211.30 1191.80)">Si-DNMT3A</text>
<text x="258.60" y="1191.80" font-size="20.7" font-weight="bold" text-anchor="end" transform="rotate(-30 258.60 1191.80)">Si-DNMT3B</text>
<text x="353.70" y="1191.80" font-size="20.7" font-weight="bold" text-anchor="end" transform="rotate(-30 353.70 1191.80)">Si-CTL</text>
<text x="401.00" y="1191.80" font-size="20.7" font-weight="bold" text-anchor="end" transform="rotate(-30 401.00 1191.80)">Si-DNMT1</text>
<text x="448.50" y="1191.80" font-size="20.7" font-weight="bold" text-anchor="end" transform="rotate(-30 448.50 1191.80)">Si-DNMT3A</text>
<text x="496.10" y="1191.80" font-size="20.7" font-weight="bold" text-anchor="end" transform="rotate(-30 496.10 1191.80)">Si-DNMT3B</text>
<g transform="translate(26.50,1162.40) rotate(-90)">
<text x="-1.51" y="0.00" font-size="22.3" font-weight="bold" textLength="284.61" lengthAdjust="spacingAndGlyphs" xml:space="preserve">Relative  CBX7 expression</text>
</g>
<defs>
<filter id="b1" x="-20%" y="-100%" width="140%" height="300%"><feGaussianBlur stdDeviation="1.3"/></filter>
<filter id="b2" x="-20%" y="-100%" width="140%" height="300%"><feGaussianBlur stdDeviation="2.2"/></filter>
<filter id="b4" x="-30%" y="-200%" width="160%" height="500%"><feGaussianBlur stdDeviation="4"/></filter>
</defs>
<text x="511.31" y="450.20" font-size="38.4" font-weight="bold" textLength="29.70" lengthAdjust="spacingAndGlyphs">d</text>
<text x="747.41" y="436.00" font-size="20.8" font-weight="bold" textLength="113.35" lengthAdjust="spacingAndGlyphs">5-Aza-CdR</text>
<line x1="597.50" y1="442.60" x2="1003.50" y2="442.60" stroke="#000" stroke-width="1.6"/>
<text x="626.44" y="472.40" font-size="21" font-weight="bold" textLength="31.56" lengthAdjust="spacingAndGlyphs">NC</text>
<text x="689.38" y="472.40" font-size="21" font-weight="bold" textLength="26.19" lengthAdjust="spacingAndGlyphs">3d</text>
<text x="751.80" y="472.40" font-size="21" font-weight="bold" textLength="26.71" lengthAdjust="spacingAndGlyphs">5d</text>
<text x="833.74" y="472.40" font-size="21" font-weight="bold" textLength="31.56" lengthAdjust="spacingAndGlyphs">NC</text>
<text x="897.29" y="472.40" font-size="21" font-weight="bold" textLength="25.87" lengthAdjust="spacingAndGlyphs">3d</text>
<text x="959.40" y="472.40" font-size="21" font-weight="bold" textLength="26.49" lengthAdjust="spacingAndGlyphs">5d</text>
<text x="1005.20" y="471.20" font-size="19.5" font-weight="bold" textLength="69.00" lengthAdjust="spacingAndGlyphs"><tspan font-style="italic">M</tspan><tspan font-size="15" dy="5">r</tspan><tspan dy="-5">(KD)</tspan></text>
<rect x="600.60" y="478.60" width="196.40" height="58.00" fill="#fafafa" stroke="none" stroke-width="0"/>
<rect x="805.60" y="479.00" width="196.40" height="58.00" fill="#f7f7f7" stroke="none" stroke-width="0"/>
<rect x="600.00" y="544.40" width="197.00" height="61.80" fill="#fafafa" stroke="none" stroke-width="0"/>
<rect x="806.20" y="545.20" width="196.20" height="61.80" fill="#fafafa" stroke="none" stroke-width="0"/>
<rect x="618.3" y="500.9" width="47.2" height="12.5" rx="6.2" fill="#000" fill-opacity="0.144" filter="url(#b4)"/>
<path d="M624.0,504.4 Q641.9,504.4 659.8,504.4 A2.8,2.8 0 0 1 659.8,509.9 Q641.9,509.9 624.0,509.9 A2.8,2.8 0 0 1 624.0,504.4Z" fill="#000" fill-opacity="0.600" filter="url(#b2)"/>
<rect x="675.2" y="499.9" width="50.1" height="14.0" rx="7.0" fill="#000" fill-opacity="0.140" filter="url(#b4)"/>
<path d="M681.7,503.4 Q700.2,504.2 718.0,502.6 A4.2,4.2 0 0 1 718.0,511.1 Q700.2,509.6 681.7,510.4 A3.5,3.5 0 0 1 681.7,503.4Z" fill="#000" fill-opacity="0.970" filter="url(#b1)"/>
<rect x="736.1" y="500.1" width="45.5" height="14.0" rx="7.0" fill="#000" fill-opacity="0.140" filter="url(#b4)"/>
<path d="M743.4,502.9 Q758.9,505.2 774.9,503.4 A3.8,3.8 0 0 1 774.9,510.9 Q758.9,509.0 743.4,511.4 A4.2,4.2 0 0 1 743.4,502.9Z" fill="#000" fill-opacity="0.970" filter="url(#b1)"/>
<rect x="819.0" y="499.1" width="38.4" height="11.5" rx="5.8" fill="#000" fill-opacity="0.029" filter="url(#b4)"/>
<path d="M824.2,502.6 Q838.2,502.6 852.1,502.6 A2.2,2.2 0 0 1 852.1,507.1 Q838.2,507.1 824.2,507.1 A2.2,2.2 0 0 1 824.2,502.6Z" fill="#000" fill-opacity="0.120" filter="url(#b2)"/>
<rect x="874.4" y="493.9" width="48.0" height="13.0" rx="6.5" fill="#000" fill-opacity="0.122" filter="url(#b4)"/>
<path d="M880.4,497.4 Q898.4,497.9 915.9,496.9 A3.5,3.5 0 0 1 915.9,503.9 Q898.4,502.9 880.4,503.4 A3.0,3.0 0 0 1 880.4,497.4Z" fill="#000" fill-opacity="0.850" filter="url(#b1)"/>
<rect x="937.0" y="494.5" width="44.4" height="13.0" rx="6.5" fill="#000" fill-opacity="0.130" filter="url(#b4)"/>
<path d="M943.0,498.0 Q959.2,499.0 974.9,497.5 A3.5,3.5 0 0 1 974.9,504.5 Q959.2,503.0 943.0,504.0 A3.0,3.0 0 0 1 943.0,498.0Z" fill="#000" fill-opacity="0.900" filter="url(#b1)"/>
<rect x="617.7" y="568.9" width="47.2" height="14.6" rx="7.3" fill="#000" fill-opacity="0.300" filter="url(#b4)"/>
<path d="M624.5,572.4 Q641.3,572.4 658.1,572.4 A3.8,3.8 0 0 1 658.1,580.0 Q641.3,580.0 624.5,580.0 A3.8,3.8 0 0 1 624.5,572.4Z" fill="#000" fill-opacity="1.000" filter="url(#b1)"/>
<rect x="676.9" y="570.6" width="49.5" height="14.6" rx="7.3" fill="#000" fill-opacity="0.300" filter="url(#b4)"/>
<path d="M683.7,574.1 Q701.6,574.1 719.6,574.1 A3.8,3.8 0 0 1 719.6,581.7 Q701.6,581.7 683.7,581.7 A3.8,3.8 0 0 1 683.7,574.1Z" fill="#000" fill-opacity="1.000" filter="url(#b1)"/>
<rect x="738.4" y="569.0" width="49.0" height="14.4" rx="7.2" fill="#000" fill-opacity="0.300" filter="url(#b4)"/>
<path d="M745.1,572.5 Q762.9,572.5 780.7,572.5 A3.7,3.7 0 0 1 780.7,579.9 Q762.9,579.9 745.1,579.9 A3.7,3.7 0 0 1 745.1,572.5Z" fill="#000" fill-opacity="1.000" filter="url(#b1)"/>
<rect x="822.5" y="570.2" width="49.5" height="14.2" rx="7.1" fill="#000" fill-opacity="0.300" filter="url(#b4)"/>
<path d="M829.1,573.7 Q847.2,573.7 865.4,573.7 A3.6,3.6 0 0 1 865.4,580.9 Q847.2,580.9 829.1,580.9 A3.6,3.6 0 0 1 829.1,573.7Z" fill="#000" fill-opacity="1.000" filter="url(#b1)"/>
<rect x="880.0" y="570.2" width="56.2" height="14.2" rx="7.1" fill="#000" fill-opacity="0.300" filter="url(#b4)"/>
<path d="M886.6,573.7 Q908.1,573.7 929.6,573.7 A3.6,3.6 0 0 1 929.6,580.9 Q908.1,580.9 886.6,580.9 A3.6,3.6 0 0 1 886.6,573.7Z" fill="#000" fill-opacity="1.000" filter="url(#b1)"/>
<rect x="944.4" y="569.5" width="48.9" height="14.2" rx="7.1" fill="#000" fill-opacity="0.300" filter="url(#b4)"/>
<path d="M951.0,573.0 Q968.8,573.0 986.7,573.0 A3.6,3.6 0 0 1 986.7,580.2 Q968.8,580.2 951.0,580.2 A3.6,3.6 0 0 1 951.0,573.0Z" fill="#000" fill-opacity="1.000" filter="url(#b1)"/>
<rect x="600.60" y="478.60" width="196.40" height="58.00" fill="none" stroke="#111" stroke-width="1.5"/>
<rect x="805.60" y="479.00" width="196.40" height="58.00" fill="none" stroke="#111" stroke-width="1.5"/>
<rect x="600.00" y="544.40" width="197.00" height="61.80" fill="none" stroke="#111" stroke-width="1.5"/>
<rect x="806.20" y="545.20" width="196.20" height="61.80" fill="none" stroke="#111" stroke-width="1.5"/>
<text x="532.49" y="513.40" font-size="21.4" font-weight="bold" textLength="59.08" lengthAdjust="spacingAndGlyphs">CBX7</text>
<text x="527.35" y="582.90" font-size="21.4" font-weight="bold" textLength="67.44" lengthAdjust="spacingAndGlyphs">ACTIN</text>
<text x="1012.31" y="504.30" font-size="19.6" font-weight="bold" textLength="23.73" lengthAdjust="spacingAndGlyphs">37</text>
<text x="1012.47" y="580.00" font-size="19.6" font-weight="bold" textLength="23.99" lengthAdjust="spacingAndGlyphs">42</text>
<text x="678.72" y="630.40" font-size="21.7" font-weight="bold" textLength="48.94" lengthAdjust="spacingAndGlyphs">5637</text>
<text x="870.48" y="630.40" font-size="21.7" font-weight="bold" textLength="85.72" lengthAdjust="spacingAndGlyphs">UMUC-3</text>
<text x="555.73" y="690.50" font-size="40" font-weight="bold" textLength="28.57" lengthAdjust="spacingAndGlyphs">h</text>
<text x="699.50" y="736.00" font-size="23.5" font-weight="bold" transform="rotate(-28 699.50 736.00)">siNC</text>
<text x="771.50" y="737.00" font-size="23.5" font-weight="bold" transform="rotate(-28 771.50 737.00)">siDNMT1</text>
<text x="853.50" y="737.50" font-size="23.5" font-weight="bold" transform="rotate(-28 853.50 737.50)">siNC</text>
<text x="923.50" y="737.00" font-size="23.5" font-weight="bold" transform="rotate(-28 923.50 737.00)">siDNMT1</text>
<text x="988.30" y="730.30" font-size="20" font-weight="bold" textLength="69.30" lengthAdjust="spacingAndGlyphs"><tspan font-style="italic">M</tspan><tspan font-size="15.5" dy="4">r</tspan><tspan dy="-4">(KD)</tspan></text>
<rect x="677.60" y="737.60" width="145.60" height="53.20" fill="#fbfbfb" stroke="none" stroke-width="0"/>
<rect x="836.80" y="738.10" width="145.40" height="53.50" fill="#efefef" stroke="none" stroke-width="0"/>
<rect x="677.60" y="799.50" width="145.60" height="53.70" fill="#fbfbfb" stroke="none" stroke-width="0"/>
<rect x="836.80" y="799.50" width="145.40" height="53.70" fill="#fbfbfb" stroke="none" stroke-width="0"/>
<rect x="677.60" y="861.30" width="145.60" height="53.50" fill="#fbfbfb" stroke="none" stroke-width="0"/>
<rect x="837.40" y="861.30" width="145.70" height="53.50" fill="#fbfbfb" stroke="none" stroke-width="0"/>
<rect x="695.00" y="765.00" width="45.00" height="13.00" fill="#000" stroke="none" stroke-width="0" fill-opacity="0.07" filter="url(#b2)"/>
<rect x="852.00" y="745.00" width="46.00" height="44.00" fill="#000" stroke="none" stroke-width="0" fill-opacity="0.06" filter="url(#b2)"/>
<rect x="693.5" y="757.2" width="49.0" height="11.4" rx="5.7" fill="#000" fill-opacity="0.108" filter="url(#b4)"/>
<path d="M698.7,760.7 Q718.0,760.7 737.3,760.7 A2.2,2.2 0 0 1 737.3,765.1 Q718.0,765.1 698.7,765.1 A2.2,2.2 0 0 1 698.7,760.7Z" fill="#000" fill-opacity="0.750" filter="url(#b1)"/>
<ellipse cx="700.5" cy="762.4" rx="4.8" ry="3.0" fill="#000" filter="url(#b1)"/>
<ellipse cx="737" cy="762.0" rx="3.2" ry="2.6" fill="#000" filter="url(#b1)"/>
<rect x="850.5" y="759.9" width="50.0" height="11.4" rx="5.7" fill="#000" fill-opacity="0.112" filter="url(#b4)"/>
<path d="M855.7,763.4 Q875.5,763.4 895.3,763.4 A2.2,2.2 0 0 1 895.3,767.8 Q875.5,767.8 855.7,767.8 A2.2,2.2 0 0 1 855.7,763.4Z" fill="#000" fill-opacity="0.620" filter="url(#b1)"/>
<ellipse cx="895" cy="764.8" rx="3.2" ry="3.4" fill="#000" filter="url(#b1)"/>
<ellipse cx="857" cy="765.6" rx="4" ry="2.8" fill="#000" fill-opacity="0.5" filter="url(#b1)"/>
<rect x="697.4" y="821.2" width="44.8" height="11.5" rx="5.8" fill="#000" fill-opacity="0.099" filter="url(#b4)"/>
<path d="M702.6,824.8 Q719.8,824.8 737.0,824.8 A2.2,2.2 0 0 1 737.0,829.2 Q719.8,829.2 702.6,829.2 A2.2,2.2 0 0 1 702.6,824.8Z" fill="#000" fill-opacity="0.550" filter="url(#b1)"/>
<rect x="758.1" y="819.5" width="53.3" height="13.5" rx="6.8" fill="#000" fill-opacity="0.233" filter="url(#b4)"/>
<path d="M764.4,823.0 Q784.8,823.6 805.1,823.0 A3.2,3.2 0 0 1 805.1,829.5 Q784.8,828.9 764.4,829.5 A3.2,3.2 0 0 1 764.4,823.0Z" fill="#000" fill-opacity="0.970" filter="url(#b1)"/>
<rect x="852.7" y="822.2" width="49.8" height="13.0" rx="6.5" fill="#000" fill-opacity="0.101" filter="url(#b4)"/>
<path d="M858.7,825.7 Q877.6,825.7 896.5,825.7 A3.0,3.0 0 0 1 896.5,831.7 Q877.6,831.7 858.7,831.7 A3.0,3.0 0 0 1 858.7,825.7Z" fill="#000" fill-opacity="0.420" filter="url(#b2)"/>
<rect x="918.5" y="819.9" width="45.6" height="15.5" rx="7.8" fill="#000" fill-opacity="0.240" filter="url(#b4)"/>
<path d="M926.5,822.6 Q941.3,825.1 956.9,823.4 A4.2,4.2 0 0 1 956.9,831.9 Q941.3,830.1 926.5,832.6 A5.0,5.0 0 0 1 926.5,822.6Z" fill="#000" fill-opacity="1.000" filter="url(#b1)"/>
<rect x="683.0" y="879.8" width="67.6" height="19.5" rx="9.8" fill="#000" fill-opacity="0.300" filter="url(#b4)"/>
<path d="M692.2,883.2 Q716.8,883.2 741.4,883.2 A6.2,6.2 0 0 1 741.4,895.8 Q716.8,895.8 692.2,895.8 A6.2,6.2 0 0 1 692.2,883.2Z" fill="#000" fill-opacity="1.000" filter="url(#b1)"/>
<rect x="756.5" y="879.8" width="63.3" height="19.5" rx="9.8" fill="#000" fill-opacity="0.300" filter="url(#b4)"/>
<path d="M765.8,883.2 Q788.1,883.2 810.5,883.2 A6.2,6.2 0 0 1 810.5,895.8 Q788.1,895.8 765.8,895.8 A6.2,6.2 0 0 1 765.8,883.2Z" fill="#000" fill-opacity="1.000" filter="url(#b1)"/>
<rect x="841.7" y="880.0" width="62.5" height="20.5" rx="10.2" fill="#000" fill-opacity="0.300" filter="url(#b4)"/>
<path d="M851.5,883.5 Q873.0,883.5 894.5,883.5 A6.8,6.8 0 0 1 894.5,897.0 Q873.0,897.0 851.5,897.0 A6.8,6.8 0 0 1 851.5,883.5Z" fill="#000" fill-opacity="1.000" filter="url(#b1)"/>
<rect x="907.5" y="878.1" width="68.5" height="21.0" rx="10.5" fill="#000" fill-opacity="0.300" filter="url(#b4)"/>
<path d="M917.5,881.6 Q941.8,881.6 966.0,881.6 A7.0,7.0 0 0 1 966.0,895.6 Q941.8,895.6 917.5,895.6 A7.0,7.0 0 0 1 917.5,881.6Z" fill="#000" fill-opacity="1.000" filter="url(#b1)"/>
<rect x="677.60" y="737.60" width="145.60" height="53.20" fill="none" stroke="#111" stroke-width="1.5"/>
<rect x="836.80" y="738.10" width="145.40" height="53.50" fill="none" stroke="#111" stroke-width="1.5"/>
<rect x="677.60" y="799.50" width="145.60" height="53.70" fill="none" stroke="#111" stroke-width="1.5"/>
<rect x="836.80" y="799.50" width="145.40" height="53.70" fill="none" stroke="#111" stroke-width="1.5"/>
<rect x="677.60" y="861.30" width="145.60" height="53.50" fill="none" stroke="#111" stroke-width="1.5"/>
<rect x="837.40" y="861.30" width="145.70" height="53.50" fill="none" stroke="#111" stroke-width="1.5"/>
<text x="583.81" y="775.90" font-size="22.6" font-weight="bold" textLength="82.06" lengthAdjust="spacingAndGlyphs">DNMT1</text>
<text x="601.61" y="836.10" font-size="22.6" font-weight="bold" textLength="64.66" lengthAdjust="spacingAndGlyphs">CBX7</text>
<text x="592.78" y="897.10" font-size="22.6" font-weight="bold" textLength="75.48" lengthAdjust="spacingAndGlyphs">ACTIN</text>
<text x="995.45" y="768.20" font-size="20.8" font-weight="bold" textLength="40.85" lengthAdjust="spacingAndGlyphs">200</text>
<text x="995.74" y="828.70" font-size="20.8" font-weight="bold" textLength="27.13" lengthAdjust="spacingAndGlyphs">37</text>
<text x="995.92" y="885.50" font-size="20.8" font-weight="bold" textLength="27.57" lengthAdjust="spacingAndGlyphs">42</text>
<text x="727.65" y="940.40" font-size="22.8" font-weight="bold" textLength="54.32" lengthAdjust="spacingAndGlyphs">5637</text>
<text x="865.13" y="937.80" font-size="22.8" font-weight="bold" textLength="94.95" lengthAdjust="spacingAndGlyphs">UMUC-3</text>
<text x="555.59" y="995.50" font-size="40" font-weight="bold" textLength="13.57" lengthAdjust="spacingAndGlyphs">i</text>
<text x="701.50" y="1034.50" font-size="23.5" font-weight="bold" transform="rotate(-28 701.50 1034.50)">siNC</text>
<text x="769.50" y="1033.50" font-size="23.5" font-weight="bold" transform="rotate(-28 769.50 1033.50)">siDNMT3A</text>
<text x="858.00" y="1034.50" font-size="23.5" font-weight="bold" transform="rotate(-28 858.00 1034.50)">siNC</text>
<text x="920.00" y="1033.50" font-size="23.5" font-weight="bold" transform="rotate(-28 920.00 1033.50)">siDNMT3A</text>
<text x="988.70" y="1029.00" font-size="20" font-weight="bold" textLength="69.30" lengthAdjust="spacingAndGlyphs"><tspan font-style="italic">M</tspan><tspan font-size="15.5" dy="4">r</tspan><tspan dy="-4">(KD)</tspan></text>
<rect x="677.00" y="1036.00" width="145.40" height="53.20" fill="#fbfbfb" stroke="none" stroke-width="0"/>
<rect x="836.30" y="1036.00" width="145.40" height="53.20" fill="#fbfbfb" stroke="none" stroke-width="0"/>
<rect x="677.00" y="1097.60" width="145.40" height="53.10" fill="#fbfbfb" stroke="none" stroke-width="0"/>
<rect x="836.30" y="1097.60" width="145.40" height="53.10" fill="#fbfbfb" stroke="none" stroke-width="0"/>
<rect x="677.00" y="1159.00" width="145.40" height="53.20" fill="#fbfbfb" stroke="none" stroke-width="0"/>
<rect x="836.30" y="1159.00" width="145.40" height="53.20" fill="#fbfbfb" stroke="none" stroke-width="0"/>
<rect x="693.6" y="1054.2" width="57.7" height="18.5" rx="9.2" fill="#000" fill-opacity="0.300" filter="url(#b4)"/>
<path d="M702.4,1057.8 Q722.5,1058.8 742.5,1057.8 A5.8,5.8 0 0 1 742.5,1069.2 Q722.5,1068.2 702.4,1069.2 A5.8,5.8 0 0 1 702.4,1057.8Z" fill="#000" fill-opacity="1.000" filter="url(#b1)"/>
<rect x="760.6" y="1058.5" width="53.6" height="11.0" rx="5.5" fill="#000" fill-opacity="0.012" filter="url(#b4)"/>
<path d="M765.6,1062.0 Q787.4,1062.0 809.2,1062.0 A2.0,2.0 0 0 1 809.2,1066.0 Q787.4,1066.0 765.6,1066.0 A2.0,2.0 0 0 1 765.6,1062.0Z" fill="#000" fill-opacity="0.100" filter="url(#b2)"/>
<rect x="855.7" y="1059.4" width="50.7" height="12.0" rx="6.0" fill="#000" fill-opacity="0.162" filter="url(#b4)"/>
<path d="M862.2,1061.9 Q881.0,1062.9 900.9,1062.9 A2.5,2.5 0 0 1 900.9,1067.9 Q881.0,1067.9 862.2,1068.9 A3.5,3.5 0 0 1 862.2,1061.9Z" fill="#000" fill-opacity="0.900" filter="url(#b1)"/>
<rect x="920.0" y="1059.5" width="50.7" height="11.0" rx="5.5" fill="#000" fill-opacity="0.014" filter="url(#b4)"/>
<path d="M925.0,1063.0 Q945.4,1063.0 965.7,1063.0 A2.0,2.0 0 0 1 965.7,1067.0 Q945.4,1067.0 925.0,1067.0 A2.0,2.0 0 0 1 925.0,1063.0Z" fill="#000" fill-opacity="0.120" filter="url(#b2)"/>
<rect x="695.0" y="1118.1" width="45.0" height="12.0" rx="6.0" fill="#000" fill-opacity="0.117" filter="url(#b4)"/>
<path d="M700.5,1121.6 Q717.5,1121.6 734.5,1121.6 A2.5,2.5 0 0 1 734.5,1126.6 Q717.5,1126.6 700.5,1126.6 A2.5,2.5 0 0 1 700.5,1121.6Z" fill="#000" fill-opacity="0.650" filter="url(#b1)"/>
<rect x="759.3" y="1117.3" width="47.9" height="13.5" rx="6.8" fill="#000" fill-opacity="0.233" filter="url(#b4)"/>
<path d="M765.5,1120.8 Q783.2,1121.8 800.5,1120.3 A3.8,3.8 0 0 1 800.5,1127.8 Q783.2,1126.3 765.5,1127.3 A3.2,3.2 0 0 1 765.5,1120.8Z" fill="#000" fill-opacity="0.970" filter="url(#b1)"/>
<rect x="851.5" y="1118.3" width="47.9" height="13.0" rx="6.5" fill="#000" fill-opacity="0.108" filter="url(#b4)"/>
<path d="M857.5,1121.8 Q875.5,1121.8 893.4,1121.8 A3.0,3.0 0 0 1 893.4,1127.8 Q875.5,1127.8 857.5,1127.8 A3.0,3.0 0 0 1 857.5,1121.8Z" fill="#000" fill-opacity="0.450" filter="url(#b2)"/>
<rect x="913.0" y="1115.8" width="53.5" height="18.0" rx="9.0" fill="#000" fill-opacity="0.300" filter="url(#b4)"/>
<path d="M921.5,1119.3 Q939.8,1121.1 958.0,1119.3 A5.5,5.5 0 0 1 958.0,1130.3 Q939.8,1128.5 921.5,1130.3 A5.5,5.5 0 0 1 921.5,1119.3Z" fill="#000" fill-opacity="1.000" filter="url(#b1)"/>
<rect x="683.8" y="1176.1" width="64.7" height="19.0" rx="9.5" fill="#000" fill-opacity="0.300" filter="url(#b4)"/>
<path d="M692.8,1179.6 Q716.1,1179.6 739.5,1179.6 A6.0,6.0 0 0 1 739.5,1191.6 Q716.1,1191.6 692.8,1191.6 A6.0,6.0 0 0 1 692.8,1179.6Z" fill="#000" fill-opacity="1.000" filter="url(#b1)"/>
<rect x="757.9" y="1176.6" width="57.7" height="18.0" rx="9.0" fill="#000" fill-opacity="0.300" filter="url(#b4)"/>
<path d="M766.4,1180.1 Q786.8,1180.1 807.1,1180.1 A5.5,5.5 0 0 1 807.1,1191.1 Q786.8,1191.1 766.4,1191.1 A5.5,5.5 0 0 1 766.4,1180.1Z" fill="#000" fill-opacity="1.000" filter="url(#b1)"/>
<rect x="849.0" y="1177.8" width="60.3" height="18.5" rx="9.2" fill="#000" fill-opacity="0.360" filter="url(#b4)"/>
<path d="M857.8,1181.2 Q879.1,1181.2 900.5,1181.2 A5.8,5.8 0 0 1 900.5,1192.8 Q879.1,1192.8 857.8,1192.8 A5.8,5.8 0 0 1 857.8,1181.2Z" fill="#000" fill-opacity="1.000" filter="url(#b1)"/>
<rect x="912.6" y="1177.2" width="66.9" height="18.5" rx="9.2" fill="#000" fill-opacity="0.360" filter="url(#b4)"/>
<path d="M921.4,1180.8 Q946.0,1180.8 970.8,1180.8 A5.8,5.8 0 0 1 970.8,1192.2 Q946.0,1192.2 921.4,1192.2 A5.8,5.8 0 0 1 921.4,1180.8Z" fill="#000" fill-opacity="1.000" filter="url(#b1)"/>
<rect x="677.00" y="1036.00" width="145.40" height="53.20" fill="none" stroke="#111" stroke-width="1.5"/>
<rect x="836.30" y="1036.00" width="145.40" height="53.20" fill="none" stroke="#111" stroke-width="1.5"/>
<rect x="677.00" y="1097.60" width="145.40" height="53.10" fill="none" stroke="#111" stroke-width="1.5"/>
<rect x="836.30" y="1097.60" width="145.40" height="53.10" fill="none" stroke="#111" stroke-width="1.5"/>
<rect x="677.00" y="1159.00" width="145.40" height="53.20" fill="none" stroke="#111" stroke-width="1.5"/>
<rect x="836.30" y="1159.00" width="145.40" height="53.20" fill="none" stroke="#111" stroke-width="1.5"/>
<text x="566.16" y="1069.50" font-size="22.6" font-weight="bold" textLength="102.09" lengthAdjust="spacingAndGlyphs">DNMT3A</text>
<text x="603.60" y="1129.60" font-size="22.6" font-weight="bold" textLength="65.07" lengthAdjust="spacingAndGlyphs">CBX7</text>
<text x="594.79" y="1193.50" font-size="22.6" font-weight="bold" textLength="75.07" lengthAdjust="spacingAndGlyphs">ACTIN</text>
<text x="995.58" y="1066.80" font-size="20.8" font-weight="bold" textLength="40.21" lengthAdjust="spacingAndGlyphs">130</text>
<text x="996.57" y="1129.70" font-size="20.8" font-weight="bold" textLength="25.85" lengthAdjust="spacingAndGlyphs">37</text>
<text x="996.74" y="1191.20" font-size="20.8" font-weight="bold" textLength="26.41" lengthAdjust="spacingAndGlyphs">42</text>
<text x="722.85" y="1238.40" font-size="23" font-weight="bold" textLength="54.32" lengthAdjust="spacingAndGlyphs">5637</text>
<text x="860.23" y="1235.90" font-size="23" font-weight="bold" textLength="94.95" lengthAdjust="spacingAndGlyphs">UMUC-3</text>
</svg>
</body></html>
